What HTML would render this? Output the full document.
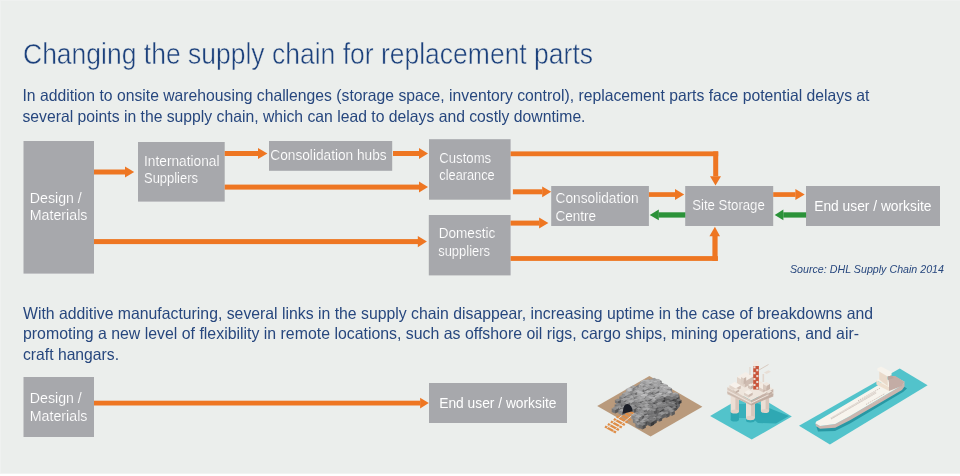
<!DOCTYPE html>
<html><head><meta charset="utf-8">
<style>
html,body{margin:0;padding:0;background:#EBEEEC;}
body{width:960px;height:476px;overflow:hidden;position:relative;font-family:"Liberation Sans",sans-serif;}
svg{position:absolute;left:0;top:0;display:block;will-change:transform;}
.t{font-family:"Liberation Sans",sans-serif;fill:#27477E;}
.w{font-family:"Liberation Sans",sans-serif;fill:#FFFFFF;font-size:14px;}
.b{fill:#A7A8AC;}
.wl{stroke:#A7A8AC;stroke-width:0.15px;}
.o{fill:#EE7622;}
.g{fill:#2B9239;}
</style></head>
<body>
<svg width="960" height="476" viewBox="0 0 960 476">
<rect x="0" y="0" width="960" height="476" fill="#EBEEEC"/>
<rect x="0" y="0" width="960" height="1" fill="#EFF1F0"/>
<rect x="0" y="0" width="1" height="476" fill="#EFF1F0"/>
<rect x="0" y="473" width="960" height="1" fill="#F1F3F2"/>
<rect x="0" y="474" width="960" height="2" fill="#FFFFFF"/>

<!-- title -->
<text class="t" x="23" y="64" style="fill:#1C417C" font-size="29.8" stroke="#EBEEEC" stroke-width="0.5" textLength="570" lengthAdjust="spacingAndGlyphs">Changing the supply chain for replacement parts</text>
<!-- para 1 -->
<text class="t" x="22.5" y="101.4" font-size="16.5" textLength="847" lengthAdjust="spacingAndGlyphs">In addition to onsite warehousing challenges (storage space, inventory control), replacement parts face potential delays at</text>
<text class="t" x="22.5" y="121.5" font-size="16.5" textLength="563" lengthAdjust="spacingAndGlyphs">several points in the supply chain, which can lead to delays and costly downtime.</text>

<!-- boxes -->
<rect class="b" x="23.5" y="141" width="70.5" height="132.6"/>
<rect class="b" x="138" y="142" width="86.7" height="59.6"/>
<rect class="b" x="269" y="141" width="123.2" height="29.8"/>
<rect class="b" x="429" y="139.2" width="81.6" height="60.5"/>
<rect class="b" x="428.8" y="215" width="81.8" height="60.4"/>
<rect class="b" x="551.2" y="186" width="97.7" height="40"/>
<rect class="b" x="685.2" y="186" width="88" height="40"/>
<rect class="b" x="806" y="186" width="134" height="40"/>
<rect class="b" x="23.5" y="377" width="70.5" height="60"/>
<rect class="b" x="429" y="383" width="138" height="40"/>

<!-- arrows: shaft rect + head polygon -->
<g class="o">
  <!-- Design -> International -->
  <rect x="94" y="169.5" width="31.5" height="5"/>
  <polygon points="125,166.5 134.2,172 125,177.5"/>
  <!-- Intl -> Hubs -->
  <rect x="224.7" y="151" width="33.5" height="5"/>
  <polygon points="258,148 267.4,153.5 258,159"/>
  <!-- Intl -> Customs -->
  <rect x="224.7" y="184.6" width="194.5" height="5"/>
  <polygon points="419,181.6 428,187.1 419,192.6"/>
  <!-- Hubs -> Customs -->
  <rect x="393" y="151" width="26.2" height="5"/>
  <polygon points="419,148 428,153.5 419,159"/>
  <!-- Design -> Domestic -->
  <rect x="94" y="239.1" width="324" height="5"/>
  <polygon points="417.8,236 426.9,241.6 417.8,247.2"/>
  <!-- Customs -> Site (top route) -->
  <rect x="510.6" y="151.4" width="207.6" height="4.8"/>
  <rect x="713.2" y="151.4" width="5" height="25"/>
  <polygon points="710,176.2 721,176.2 715.5,185.4"/>
  <!-- Customs -> Consolidation -->
  <rect x="512.9" y="189.3" width="29.5" height="5"/>
  <polygon points="542.2,186.4 551.2,191.8 542.2,197.2"/>
  <!-- Domestic -> Consolidation -->
  <rect x="510.6" y="220.6" width="28.7" height="5"/>
  <polygon points="539.1,217.4 548.4,223 539.1,228.6"/>
  <!-- Domestic -> Site (bottom route) -->
  <rect x="510.6" y="256.1" width="207.3" height="4.8"/>
  <rect x="712.4" y="235.5" width="5.2" height="25.4"/>
  <polygon points="709.4,236.2 720,236.2 714.9,226.8"/>
  <!-- Consolidation -> Site -->
  <rect x="648.9" y="192.2" width="26.3" height="4.7"/>
  <polygon points="675,189 684.2,194.5 675,200"/>
  <!-- Site -> End user -->
  <rect x="773.2" y="192.2" width="22.4" height="4.7"/>
  <polygon points="795.4,189 804.7,194.5 795.4,200"/>
  <!-- bottom Design -> End user -->
  <rect x="94" y="400.7" width="326.3" height="4.8"/>
  <polygon points="420.1,397.8 428.8,403.1 420.1,408.4"/>
</g>
<g class="g">
  <rect x="658.6" y="212.3" width="26.7" height="5.3"/>
  <polygon points="658.8,209.6 649.7,214.9 658.8,220.2"/>
  <rect x="783.3" y="212.3" width="22.8" height="5.3"/>
  <polygon points="783.4,209.6 774.7,214.9 783.4,220.2"/>
</g>

<!-- box labels -->
<g lengthAdjust="spacingAndGlyphs">
<text class="w wl" x="29.8" y="202.9" textLength="52" lengthAdjust="spacingAndGlyphs">Design /</text>
<text class="w wl" x="29.8" y="220.4" textLength="57.6" lengthAdjust="spacingAndGlyphs">Materials</text>
<text class="w wl" x="144" y="165.9" textLength="75.5" lengthAdjust="spacingAndGlyphs">International</text>
<text class="w wl" x="144" y="182.9" textLength="54" lengthAdjust="spacingAndGlyphs">Suppliers</text>
<text class="w wl" x="270.3" y="160.1" textLength="116.4" lengthAdjust="spacingAndGlyphs">Consolidation hubs</text>
<text class="w wl" x="439.3" y="162.9" textLength="51.9" lengthAdjust="spacingAndGlyphs">Customs</text>
<text class="w wl" x="439.3" y="180.3" textLength="55.4" lengthAdjust="spacingAndGlyphs">clearance</text>
<text class="w wl" x="438.7" y="238.4" textLength="56.6" lengthAdjust="spacingAndGlyphs">Domestic</text>
<text class="w wl" x="438.2" y="256.4" textLength="51.8" lengthAdjust="spacingAndGlyphs">suppliers</text>
<text class="w wl" x="555.5" y="202.6" textLength="83.1" lengthAdjust="spacingAndGlyphs">Consolidation</text>
<text class="w wl" x="555.5" y="220.5" textLength="40.6" lengthAdjust="spacingAndGlyphs">Centre</text>
<text class="w wl" x="692.2" y="210.2" textLength="72.6" lengthAdjust="spacingAndGlyphs">Site Storage</text>
<text class="w" x="814.2" y="210.8" textLength="117.3" lengthAdjust="spacingAndGlyphs">End user / worksite</text>
<text class="w wl" x="29.8" y="402.8" textLength="52" lengthAdjust="spacingAndGlyphs">Design /</text>
<text class="w wl" x="29.8" y="420.5" textLength="57.6" lengthAdjust="spacingAndGlyphs">Materials</text>
<text class="w" x="439.2" y="407.8" textLength="117.3" lengthAdjust="spacingAndGlyphs">End user / worksite</text>
</g>

<text class="t" x="790" y="273.2" font-size="11" font-style="italic" textLength="154" lengthAdjust="spacingAndGlyphs">Source: DHL Supply Chain 2014</text>

<!-- para 2 -->
<text class="t" x="23" y="319.2" font-size="16.5" textLength="850" lengthAdjust="spacingAndGlyphs">With additive manufacturing, several links in the supply chain disappear, increasing uptime in the case of breakdowns and</text>
<text class="t" x="23" y="339.4" font-size="16.5" textLength="836" lengthAdjust="spacingAndGlyphs">promoting a new level of flexibility in remote locations, such as offshore oil rigs, cargo ships, mining operations, and air-</text>
<text class="t" x="23" y="359.7" font-size="16.5" textLength="96" lengthAdjust="spacingAndGlyphs">craft hangars.</text>

<!-- illustrations -->
<g id="mine">
<polygon points="649.4,375.9 702.4,406.8 650.6,436.5 597.2,406" fill="#B99A7C"/>
<line x1="625.5" y1="408.9" x2="636.5" y2="415.1" stroke="#DF8D46" stroke-width="2.3"/>
<line x1="622.6" y1="411.4" x2="633.6" y2="417.6" stroke="#DF8D46" stroke-width="2.3"/>
<line x1="619.7" y1="413.9" x2="630.6" y2="420.1" stroke="#DF8D46" stroke-width="2.3"/>
<line x1="616.7" y1="416.4" x2="627.7" y2="422.6" stroke="#DF8D46" stroke-width="2.3"/>
<line x1="613.8" y1="418.9" x2="624.8" y2="425.1" stroke="#DF8D46" stroke-width="2.3"/>
<line x1="610.9" y1="421.4" x2="621.8" y2="427.6" stroke="#DF8D46" stroke-width="2.3"/>
<line x1="607.9" y1="423.9" x2="618.9" y2="430.1" stroke="#DF8D46" stroke-width="2.3"/>
<line x1="605.0" y1="426.4" x2="616.0" y2="432.6" stroke="#DF8D46" stroke-width="2.3"/>
<line x1="628.0" y1="410.3" x2="606.5" y2="428.4" stroke="#E6E2DC" stroke-width="0.9"/>
<line x1="634.0" y1="413.7" x2="612.5" y2="431.8" stroke="#E6E2DC" stroke-width="0.9"/>
<polygon points="614.3,411.1 617.7,401 622.2,395.3 627.9,391.9 634.7,387.3 641.5,382.8 648.3,379.4 655.1,380 661.9,382.8 668.7,388.5 675.5,395.3 680,399.8 680,405.5 676.6,410 668.7,414.5 659.6,419.1 651.7,423.6 643.7,426.5 636.9,425.9 635.2,421.4 634.7,413.4 632.4,408.9 627.9,404.3 624.5,405.5 622.8,413.4 618.8,412.3" fill="#7E7E80"/>
<polygon points="648,408 680,400 680,406 676.6,410 651.7,423.6 643.7,426.5 640,418" fill="#68686A"/>
<polygon points="650.4,379.6 654.1,377.7 657.7,379.6 654.1,381.4" fill="rgb(154,154,155)"/>
<polygon points="650.4,379.6 654.1,381.4 654.1,385.1 650.4,383.2" fill="rgb(130,130,131)"/>
<polygon points="654.1,381.4 657.7,379.6 657.7,383.2 654.1,385.1" fill="rgb(100,100,101)"/>
<polygon points="654.7,380.4 657.9,378.8 661.2,380.4 657.9,382.1" fill="rgb(166,166,167)"/>
<polygon points="654.7,380.4 657.9,382.1 657.9,385.4 654.7,383.7" fill="rgb(142,142,143)"/>
<polygon points="657.9,382.1 661.2,380.4 661.2,383.7 657.9,385.4" fill="rgb(112,112,113)"/>
<polygon points="654.5,380.9 658.1,379.1 661.6,380.9 658.1,382.6" fill="rgb(174,174,175)"/>
<polygon points="654.5,380.9 658.1,382.6 658.1,386.2 654.5,384.4" fill="rgb(150,150,151)"/>
<polygon points="658.1,382.6 661.6,380.9 661.6,384.4 658.1,386.2" fill="rgb(120,120,121)"/>
<polygon points="644.3,380.9 648.0,379.1 651.8,380.9 648.0,382.8" fill="rgb(165,165,166)"/>
<polygon points="644.3,380.9 648.0,382.8 648.0,386.6 644.3,384.7" fill="rgb(141,141,142)"/>
<polygon points="648.0,382.8 651.8,380.9 651.8,384.7 648.0,386.6" fill="rgb(111,111,112)"/>
<polygon points="649.1,381.0 652.1,379.5 655.1,381.0 652.1,382.5" fill="rgb(163,163,164)"/>
<polygon points="649.1,381.0 652.1,382.5 652.1,385.5 649.1,384.0" fill="rgb(139,139,140)"/>
<polygon points="652.1,382.5 655.1,381.0 655.1,384.0 652.1,385.5" fill="rgb(109,109,110)"/>
<polygon points="647.5,381.0 650.7,379.4 653.9,381.0 650.7,382.6" fill="rgb(177,177,178)"/>
<polygon points="647.5,381.0 650.7,382.6 650.7,385.8 647.5,384.2" fill="rgb(153,153,154)"/>
<polygon points="650.7,382.6 653.9,381.0 653.9,384.2 650.7,385.8" fill="rgb(123,123,124)"/>
<polygon points="644.5,381.2 647.1,379.9 649.6,381.2 647.1,382.5" fill="rgb(189,189,190)"/>
<polygon points="644.5,381.2 647.1,382.5 647.1,385.1 644.5,383.8" fill="rgb(165,165,166)"/>
<polygon points="647.1,382.5 649.6,381.2 649.6,383.8 647.1,385.1" fill="rgb(135,135,136)"/>
<polygon points="652.3,381.4 655.2,379.9 658.2,381.4 655.2,382.8" fill="rgb(154,154,155)"/>
<polygon points="652.3,381.4 655.2,382.8 655.2,385.7 652.3,384.3" fill="rgb(130,130,131)"/>
<polygon points="655.2,382.8 658.2,381.4 658.2,384.3 655.2,385.7" fill="rgb(100,100,101)"/>
<polygon points="640.5,381.4 644.1,379.6 647.8,381.4 644.1,383.2" fill="rgb(185,185,186)"/>
<polygon points="640.5,381.4 644.1,383.2 644.1,386.9 640.5,385.1" fill="rgb(161,161,162)"/>
<polygon points="644.1,383.2 647.8,381.4 647.8,385.1 644.1,386.9" fill="rgb(131,131,132)"/>
<polygon points="647.0,381.9 650.4,380.2 653.8,381.9 650.4,383.6" fill="rgb(161,161,162)"/>
<polygon points="647.0,381.9 650.4,383.6 650.4,387.0 647.0,385.3" fill="rgb(137,137,138)"/>
<polygon points="650.4,383.6 653.8,381.9 653.8,385.3 650.4,387.0" fill="rgb(107,107,108)"/>
<polygon points="644.6,382.0 647.6,380.5 650.5,382.0 647.6,383.5" fill="rgb(176,176,177)"/>
<polygon points="644.6,382.0 647.6,383.5 647.6,386.4 644.6,384.9" fill="rgb(152,152,153)"/>
<polygon points="647.6,383.5 650.5,382.0 650.5,384.9 647.6,386.4" fill="rgb(122,122,123)"/>
<polygon points="651.9,382.0 655.2,380.4 658.4,382.0 655.2,383.7" fill="rgb(183,183,184)"/>
<polygon points="651.9,382.0 655.2,383.7 655.2,387.0 651.9,385.3" fill="rgb(159,159,160)"/>
<polygon points="655.2,383.7 658.4,382.0 658.4,385.3 655.2,387.0" fill="rgb(129,129,130)"/>
<polygon points="641.1,382.2 644.6,380.5 648.0,382.2 644.6,383.9" fill="rgb(179,179,180)"/>
<polygon points="641.1,382.2 644.6,383.9 644.6,387.3 641.1,385.6" fill="rgb(155,155,156)"/>
<polygon points="644.6,383.9 648.0,382.2 648.0,385.6 644.6,387.3" fill="rgb(125,125,126)"/>
<polygon points="640.2,382.2 643.5,380.5 646.8,382.2 643.5,383.8" fill="rgb(174,174,175)"/>
<polygon points="640.2,382.2 643.5,383.8 643.5,387.1 640.2,385.5" fill="rgb(150,150,151)"/>
<polygon points="643.5,383.8 646.8,382.2 646.8,385.5 643.5,387.1" fill="rgb(120,120,121)"/>
<polygon points="649.6,382.4 653.0,380.7 656.5,382.4 653.0,384.2" fill="rgb(181,181,182)"/>
<polygon points="649.6,382.4 653.0,384.2 653.0,387.7 649.6,385.9" fill="rgb(157,157,158)"/>
<polygon points="653.0,384.2 656.5,382.4 656.5,385.9 653.0,387.7" fill="rgb(127,127,128)"/>
<polygon points="641.3,382.4 644.5,380.8 647.7,382.4 644.5,384.1" fill="rgb(157,157,158)"/>
<polygon points="641.3,382.4 644.5,384.1 644.5,387.3 641.3,385.7" fill="rgb(133,133,134)"/>
<polygon points="644.5,384.1 647.7,382.4 647.7,385.7 644.5,387.3" fill="rgb(103,103,104)"/>
<polygon points="648.9,382.8 652.5,381.0 656.0,382.8 652.5,384.6" fill="rgb(164,164,165)"/>
<polygon points="648.9,382.8 652.5,384.6 652.5,388.2 648.9,386.4" fill="rgb(140,140,141)"/>
<polygon points="652.5,384.6 656.0,382.8 656.0,386.4 652.5,388.2" fill="rgb(110,110,111)"/>
<polygon points="655.2,382.9 658.7,381.1 662.2,382.9 658.7,384.6" fill="rgb(161,161,162)"/>
<polygon points="655.2,382.9 658.7,384.6 658.7,388.1 655.2,386.3" fill="rgb(137,137,138)"/>
<polygon points="658.7,384.6 662.2,382.9 662.2,386.3 658.7,388.1" fill="rgb(107,107,108)"/>
<polygon points="649.2,382.9 651.9,381.6 654.5,382.9 651.9,384.3" fill="rgb(189,189,190)"/>
<polygon points="649.2,382.9 651.9,384.3 651.9,387.0 649.2,385.6" fill="rgb(165,165,166)"/>
<polygon points="651.9,384.3 654.5,382.9 654.5,385.6 651.9,387.0" fill="rgb(135,135,136)"/>
<polygon points="650.7,383.2 653.4,381.8 656.0,383.2 653.4,384.5" fill="rgb(156,156,157)"/>
<polygon points="650.7,383.2 653.4,384.5 653.4,387.2 650.7,385.9" fill="rgb(132,132,133)"/>
<polygon points="653.4,384.5 656.0,383.2 656.0,385.9 653.4,387.2" fill="rgb(102,102,103)"/>
<polygon points="645.2,383.3 648.5,381.7 651.8,383.3 648.5,385.0" fill="rgb(193,193,194)"/>
<polygon points="645.2,383.3 648.5,385.0 648.5,388.3 645.2,386.7" fill="rgb(169,169,170)"/>
<polygon points="648.5,385.0 651.8,383.3 651.8,386.7 648.5,388.3" fill="rgb(139,139,140)"/>
<polygon points="644.9,383.5 648.0,381.9 651.1,383.5 648.0,385.0" fill="rgb(169,169,170)"/>
<polygon points="644.9,383.5 648.0,385.0 648.0,388.1 644.9,386.6" fill="rgb(145,145,146)"/>
<polygon points="648.0,385.0 651.1,383.5 651.1,386.6 648.0,388.1" fill="rgb(115,115,116)"/>
<polygon points="652.1,383.7 655.3,382.2 658.4,383.7 655.3,385.3" fill="rgb(182,182,183)"/>
<polygon points="652.1,383.7 655.3,385.3 655.3,388.4 652.1,386.9" fill="rgb(158,158,159)"/>
<polygon points="655.3,385.3 658.4,383.7 658.4,386.9 655.3,388.4" fill="rgb(128,128,129)"/>
<polygon points="651.6,383.9 655.1,382.2 658.6,383.9 655.1,385.6" fill="rgb(159,159,160)"/>
<polygon points="651.6,383.9 655.1,385.6 655.1,389.1 651.6,387.4" fill="rgb(135,135,136)"/>
<polygon points="655.1,385.6 658.6,383.9 658.6,387.4 655.1,389.1" fill="rgb(105,105,106)"/>
<polygon points="660.7,384.6 663.2,383.3 665.7,384.6 663.2,385.8" fill="rgb(152,152,153)"/>
<polygon points="660.7,384.6 663.2,385.8 663.2,388.3 660.7,387.1" fill="rgb(128,128,129)"/>
<polygon points="663.2,385.8 665.7,384.6 665.7,387.1 663.2,388.3" fill="rgb(98,98,99)"/>
<polygon points="638.7,384.9 641.9,383.3 645.1,384.9 641.9,386.5" fill="rgb(194,194,195)"/>
<polygon points="638.7,384.9 641.9,386.5 641.9,389.7 638.7,388.1" fill="rgb(170,170,171)"/>
<polygon points="641.9,386.5 645.1,384.9 645.1,388.1 641.9,389.7" fill="rgb(140,140,141)"/>
<polygon points="640.0,384.9 642.6,383.6 645.3,384.9 642.6,386.2" fill="rgb(172,172,173)"/>
<polygon points="640.0,384.9 642.6,386.2 642.6,388.9 640.0,387.6" fill="rgb(148,148,149)"/>
<polygon points="642.6,386.2 645.3,384.9 645.3,387.6 642.6,388.9" fill="rgb(118,118,119)"/>
<polygon points="662.6,385.0 665.2,383.7 667.9,385.0 665.2,386.3" fill="rgb(186,186,187)"/>
<polygon points="662.6,385.0 665.2,386.3 665.2,389.0 662.6,387.7" fill="rgb(162,162,163)"/>
<polygon points="665.2,386.3 667.9,385.0 667.9,387.7 665.2,389.0" fill="rgb(132,132,133)"/>
<polygon points="656.4,385.1 658.9,383.8 661.4,385.1 658.9,386.3" fill="rgb(160,160,161)"/>
<polygon points="656.4,385.1 658.9,386.3 658.9,388.9 656.4,387.6" fill="rgb(136,136,137)"/>
<polygon points="658.9,386.3 661.4,385.1 661.4,387.6 658.9,388.9" fill="rgb(106,106,107)"/>
<polygon points="660.7,385.2 663.7,383.6 666.8,385.2 663.7,386.7" fill="rgb(185,185,186)"/>
<polygon points="660.7,385.2 663.7,386.7 663.7,389.8 660.7,388.2" fill="rgb(161,161,162)"/>
<polygon points="663.7,386.7 666.8,385.2 666.8,388.2 663.7,389.8" fill="rgb(131,131,132)"/>
<polygon points="652.4,385.3 655.6,383.7 658.7,385.3 655.6,386.8" fill="rgb(181,181,182)"/>
<polygon points="652.4,385.3 655.6,386.8 655.6,390.0 652.4,388.4" fill="rgb(157,157,158)"/>
<polygon points="655.6,386.8 658.7,385.3 658.7,388.4 655.6,390.0" fill="rgb(127,127,128)"/>
<polygon points="653.4,385.3 656.2,383.9 659.1,385.3 656.2,386.8" fill="rgb(171,171,172)"/>
<polygon points="653.4,385.3 656.2,386.8 656.2,389.6 653.4,388.2" fill="rgb(147,147,148)"/>
<polygon points="656.2,386.8 659.1,385.3 659.1,388.2 656.2,389.6" fill="rgb(117,117,118)"/>
<polygon points="660.2,385.3 662.8,384.0 665.5,385.3 662.8,386.7" fill="rgb(181,181,182)"/>
<polygon points="660.2,385.3 662.8,386.7 662.8,389.3 660.2,388.0" fill="rgb(157,157,158)"/>
<polygon points="662.8,386.7 665.5,385.3 665.5,388.0 662.8,389.3" fill="rgb(127,127,128)"/>
<polygon points="643.7,385.4 646.2,384.2 648.7,385.4 646.2,386.6" fill="rgb(159,159,160)"/>
<polygon points="643.7,385.4 646.2,386.6 646.2,389.1 643.7,387.9" fill="rgb(135,135,136)"/>
<polygon points="646.2,386.6 648.7,385.4 648.7,387.9 646.2,389.1" fill="rgb(105,105,106)"/>
<polygon points="658.2,385.5 661.6,383.8 665.0,385.5 661.6,387.2" fill="rgb(178,178,179)"/>
<polygon points="658.2,385.5 661.6,387.2 661.6,390.6 658.2,388.9" fill="rgb(154,154,155)"/>
<polygon points="661.6,387.2 665.0,385.5 665.0,388.9 661.6,390.6" fill="rgb(124,124,125)"/>
<polygon points="645.0,385.6 647.8,384.2 650.6,385.6 647.8,387.0" fill="rgb(172,172,173)"/>
<polygon points="645.0,385.6 647.8,387.0 647.8,389.8 645.0,388.4" fill="rgb(148,148,149)"/>
<polygon points="647.8,387.0 650.6,385.6 650.6,388.4 647.8,389.8" fill="rgb(118,118,119)"/>
<polygon points="657.6,385.9 660.9,384.3 664.2,385.9 660.9,387.5" fill="rgb(169,169,170)"/>
<polygon points="657.6,385.9 660.9,387.5 660.9,390.8 657.6,389.2" fill="rgb(145,145,146)"/>
<polygon points="660.9,387.5 664.2,385.9 664.2,389.2 660.9,390.8" fill="rgb(115,115,116)"/>
<polygon points="658.5,386.2 662.3,384.3 666.1,386.2 662.3,388.1" fill="rgb(156,156,157)"/>
<polygon points="658.5,386.2 662.3,388.1 662.3,391.9 658.5,390.0" fill="rgb(132,132,133)"/>
<polygon points="662.3,388.1 666.1,386.2 666.1,390.0 662.3,391.9" fill="rgb(102,102,103)"/>
<polygon points="645.7,386.4 648.2,385.1 650.7,386.4 648.2,387.6" fill="rgb(165,165,166)"/>
<polygon points="645.7,386.4 648.2,387.6 648.2,390.1 645.7,388.8" fill="rgb(141,141,142)"/>
<polygon points="648.2,387.6 650.7,386.4 650.7,388.8 648.2,390.1" fill="rgb(111,111,112)"/>
<polygon points="646.2,386.4 649.4,384.8 652.6,386.4 649.4,388.0" fill="rgb(159,159,160)"/>
<polygon points="646.2,386.4 649.4,388.0 649.4,391.2 646.2,389.6" fill="rgb(135,135,136)"/>
<polygon points="649.4,388.0 652.6,386.4 652.6,389.6 649.4,391.2" fill="rgb(105,105,106)"/>
<polygon points="630.3,386.7 633.4,385.2 636.4,386.7 633.4,388.3" fill="rgb(163,163,164)"/>
<polygon points="630.3,386.7 633.4,388.3 633.4,391.4 630.3,389.8" fill="rgb(139,139,140)"/>
<polygon points="633.4,388.3 636.4,386.7 636.4,389.8 633.4,391.4" fill="rgb(109,109,110)"/>
<polygon points="653.7,386.8 656.5,385.4 659.3,386.8 656.5,388.2" fill="rgb(162,162,163)"/>
<polygon points="653.7,386.8 656.5,388.2 656.5,391.1 653.7,389.6" fill="rgb(138,138,139)"/>
<polygon points="656.5,388.2 659.3,386.8 659.3,389.6 656.5,391.1" fill="rgb(108,108,109)"/>
<polygon points="645.6,386.9 649.0,385.2 652.3,386.9 649.0,388.6" fill="rgb(184,184,185)"/>
<polygon points="645.6,386.9 649.0,388.6 649.0,392.0 645.6,390.3" fill="rgb(160,160,161)"/>
<polygon points="649.0,388.6 652.3,386.9 652.3,390.3 649.0,392.0" fill="rgb(130,130,131)"/>
<polygon points="659.5,386.9 662.2,385.6 664.8,386.9 662.2,388.3" fill="rgb(189,189,190)"/>
<polygon points="659.5,386.9 662.2,388.3 662.2,390.9 659.5,389.6" fill="rgb(165,165,166)"/>
<polygon points="662.2,388.3 664.8,386.9 664.8,389.6 662.2,390.9" fill="rgb(135,135,136)"/>
<polygon points="661.6,387.1 664.4,385.7 667.1,387.1 664.4,388.5" fill="rgb(172,172,173)"/>
<polygon points="661.6,387.1 664.4,388.5 664.4,391.2 661.6,389.8" fill="rgb(148,148,149)"/>
<polygon points="664.4,388.5 667.1,387.1 667.1,389.8 664.4,391.2" fill="rgb(118,118,119)"/>
<polygon points="646.3,387.1 649.9,385.3 653.5,387.1 649.9,388.9" fill="rgb(157,157,158)"/>
<polygon points="646.3,387.1 649.9,388.9 649.9,392.5 646.3,390.7" fill="rgb(133,133,134)"/>
<polygon points="649.9,388.9 653.5,387.1 653.5,390.7 649.9,392.5" fill="rgb(103,103,104)"/>
<polygon points="649.5,387.3 652.3,385.9 655.0,387.3 652.3,388.6" fill="rgb(160,160,161)"/>
<polygon points="649.5,387.3 652.3,388.6 652.3,391.4 649.5,390.0" fill="rgb(136,136,137)"/>
<polygon points="652.3,388.6 655.0,387.3 655.0,390.0 652.3,391.4" fill="rgb(106,106,107)"/>
<polygon points="639.2,387.3 641.6,386.1 644.1,387.3 641.6,388.6" fill="rgb(162,162,163)"/>
<polygon points="639.2,387.3 641.6,388.6 641.6,391.0 639.2,389.8" fill="rgb(138,138,139)"/>
<polygon points="641.6,388.6 644.1,387.3 644.1,389.8 641.6,391.0" fill="rgb(108,108,109)"/>
<polygon points="664.3,387.4 666.9,386.1 669.5,387.4 666.9,388.6" fill="rgb(187,187,188)"/>
<polygon points="664.3,387.4 666.9,388.6 666.9,391.2 664.3,389.9" fill="rgb(163,163,164)"/>
<polygon points="666.9,388.6 669.5,387.4 669.5,389.9 666.9,391.2" fill="rgb(133,133,134)"/>
<polygon points="634.1,388.2 636.5,387.0 639.0,388.2 636.5,389.4" fill="rgb(160,160,161)"/>
<polygon points="634.1,388.2 636.5,389.4 636.5,391.8 634.1,390.6" fill="rgb(136,136,137)"/>
<polygon points="636.5,389.4 639.0,388.2 639.0,390.6 636.5,391.8" fill="rgb(106,106,107)"/>
<polygon points="664.9,388.2 668.4,386.4 672.0,388.2 668.4,390.0" fill="rgb(173,173,174)"/>
<polygon points="664.9,388.2 668.4,390.0 668.4,393.5 664.9,391.7" fill="rgb(149,149,150)"/>
<polygon points="668.4,390.0 672.0,388.2 672.0,391.7 668.4,393.5" fill="rgb(119,119,120)"/>
<polygon points="662.1,388.4 665.7,386.6 669.2,388.4 665.7,390.2" fill="rgb(194,194,195)"/>
<polygon points="662.1,388.4 665.7,390.2 665.7,393.7 662.1,391.9" fill="rgb(170,170,171)"/>
<polygon points="665.7,390.2 669.2,388.4 669.2,391.9 665.7,393.7" fill="rgb(140,140,141)"/>
<polygon points="641.4,388.5 644.9,386.7 648.5,388.5 644.9,390.2" fill="rgb(170,170,171)"/>
<polygon points="641.4,388.5 644.9,390.2 644.9,393.8 641.4,392.0" fill="rgb(146,146,147)"/>
<polygon points="644.9,390.2 648.5,388.5 648.5,392.0 644.9,393.8" fill="rgb(116,116,117)"/>
<polygon points="663.8,388.5 666.3,387.3 668.8,388.5 666.3,389.8" fill="rgb(173,173,174)"/>
<polygon points="663.8,388.5 666.3,389.8 666.3,392.3 663.8,391.1" fill="rgb(149,149,150)"/>
<polygon points="666.3,389.8 668.8,388.5 668.8,391.1 666.3,392.3" fill="rgb(119,119,120)"/>
<polygon points="637.1,388.5 639.5,387.3 642.0,388.5 639.5,389.8" fill="rgb(156,156,157)"/>
<polygon points="637.1,388.5 639.5,389.8 639.5,392.2 637.1,391.0" fill="rgb(132,132,133)"/>
<polygon points="639.5,389.8 642.0,388.5 642.0,391.0 639.5,392.2" fill="rgb(102,102,103)"/>
<polygon points="662.9,389.0 665.8,387.6 668.7,389.0 665.8,390.5" fill="rgb(168,168,169)"/>
<polygon points="662.9,389.0 665.8,390.5 665.8,393.4 662.9,391.9" fill="rgb(144,144,145)"/>
<polygon points="665.8,390.5 668.7,389.0 668.7,391.9 665.8,393.4" fill="rgb(114,114,115)"/>
<polygon points="625.8,389.1 629.5,387.2 633.3,389.1 629.5,391.0" fill="rgb(188,188,189)"/>
<polygon points="625.8,389.1 629.5,391.0 629.5,394.7 625.8,392.9" fill="rgb(164,164,165)"/>
<polygon points="629.5,391.0 633.3,389.1 633.3,392.9 629.5,394.7" fill="rgb(134,134,135)"/>
<polygon points="636.6,389.2 639.9,387.5 643.3,389.2 639.9,390.9" fill="rgb(166,166,167)"/>
<polygon points="636.6,389.2 639.9,390.9 639.9,394.2 636.6,392.6" fill="rgb(142,142,143)"/>
<polygon points="639.9,390.9 643.3,389.2 643.3,392.6 639.9,394.2" fill="rgb(112,112,113)"/>
<polygon points="661.4,389.8 664.0,388.5 666.6,389.8 664.0,391.1" fill="rgb(157,157,158)"/>
<polygon points="661.4,389.8 664.0,391.1 664.0,393.7 661.4,392.4" fill="rgb(133,133,134)"/>
<polygon points="664.0,391.1 666.6,389.8 666.6,392.4 664.0,393.7" fill="rgb(103,103,104)"/>
<polygon points="651.5,389.9 654.9,388.2 658.3,389.9 654.9,391.6" fill="rgb(165,165,166)"/>
<polygon points="651.5,389.9 654.9,391.6 654.9,395.0 651.5,393.3" fill="rgb(141,141,142)"/>
<polygon points="654.9,391.6 658.3,389.9 658.3,393.3 654.9,395.0" fill="rgb(111,111,112)"/>
<polygon points="652.9,390.0 656.5,388.1 660.1,390.0 656.5,391.8" fill="rgb(172,172,173)"/>
<polygon points="652.9,390.0 656.5,391.8 656.5,395.4 652.9,393.6" fill="rgb(148,148,149)"/>
<polygon points="656.5,391.8 660.1,390.0 660.1,393.6 656.5,395.4" fill="rgb(118,118,119)"/>
<polygon points="637.3,390.0 640.8,388.3 644.2,390.0 640.8,391.7" fill="rgb(151,151,152)"/>
<polygon points="637.3,390.0 640.8,391.7 640.8,395.2 637.3,393.4" fill="rgb(127,127,128)"/>
<polygon points="640.8,391.7 644.2,390.0 644.2,393.4 640.8,395.2" fill="rgb(97,97,98)"/>
<polygon points="637.1,390.0 640.4,388.3 643.7,390.0 640.4,391.7" fill="rgb(161,161,162)"/>
<polygon points="637.1,390.0 640.4,391.7 640.4,395.0 637.1,393.3" fill="rgb(137,137,138)"/>
<polygon points="640.4,391.7 643.7,390.0 643.7,393.3 640.4,395.0" fill="rgb(107,107,108)"/>
<polygon points="649.0,390.2 652.4,388.5 655.8,390.2 652.4,392.0" fill="rgb(184,184,185)"/>
<polygon points="649.0,390.2 652.4,392.0 652.4,395.4 649.0,393.7" fill="rgb(160,160,161)"/>
<polygon points="652.4,392.0 655.8,390.2 655.8,393.7 652.4,395.4" fill="rgb(130,130,131)"/>
<polygon points="655.6,390.3 658.5,388.8 661.4,390.3 658.5,391.7" fill="rgb(166,166,167)"/>
<polygon points="655.6,390.3 658.5,391.7 658.5,394.7 655.6,393.2" fill="rgb(142,142,143)"/>
<polygon points="658.5,391.7 661.4,390.3 661.4,393.2 658.5,394.7" fill="rgb(112,112,113)"/>
<polygon points="626.7,390.4 629.6,388.9 632.5,390.4 629.6,391.8" fill="rgb(192,192,193)"/>
<polygon points="626.7,390.4 629.6,391.8 629.6,394.7 626.7,393.2" fill="rgb(168,168,169)"/>
<polygon points="629.6,391.8 632.5,390.4 632.5,393.2 629.6,394.7" fill="rgb(138,138,139)"/>
<polygon points="654.1,390.4 656.8,389.1 659.4,390.4 656.8,391.8" fill="rgb(168,168,169)"/>
<polygon points="654.1,390.4 656.8,391.8 656.8,394.4 654.1,393.1" fill="rgb(144,144,145)"/>
<polygon points="656.8,391.8 659.4,390.4 659.4,393.1 656.8,394.4" fill="rgb(114,114,115)"/>
<polygon points="634.3,390.6 636.8,389.3 639.3,390.6 636.8,391.8" fill="rgb(168,168,169)"/>
<polygon points="634.3,390.6 636.8,391.8 636.8,394.3 634.3,393.1" fill="rgb(144,144,145)"/>
<polygon points="636.8,391.8 639.3,390.6 639.3,393.1 636.8,394.3" fill="rgb(114,114,115)"/>
<polygon points="649.9,390.7 652.8,389.3 655.7,390.7 652.8,392.1" fill="rgb(166,166,167)"/>
<polygon points="649.9,390.7 652.8,392.1 652.8,395.0 649.9,393.6" fill="rgb(142,142,143)"/>
<polygon points="652.8,392.1 655.7,390.7 655.7,393.6 652.8,395.0" fill="rgb(112,112,113)"/>
<polygon points="660.7,390.7 664.2,389.0 667.7,390.7 664.2,392.5" fill="rgb(185,185,186)"/>
<polygon points="660.7,390.7 664.2,392.5 664.2,396.0 660.7,394.2" fill="rgb(161,161,162)"/>
<polygon points="664.2,392.5 667.7,390.7 667.7,394.2 664.2,396.0" fill="rgb(131,131,132)"/>
<polygon points="665.6,391.1 668.9,389.5 672.1,391.1 668.9,392.7" fill="rgb(158,158,159)"/>
<polygon points="665.6,391.1 668.9,392.7 668.9,395.9 665.6,394.3" fill="rgb(134,134,135)"/>
<polygon points="668.9,392.7 672.1,391.1 672.1,394.3 668.9,395.9" fill="rgb(104,104,105)"/>
<polygon points="658.7,391.2 662.1,389.6 665.4,391.2 662.1,392.9" fill="rgb(166,166,167)"/>
<polygon points="658.7,391.2 662.1,392.9 662.1,396.2 658.7,394.6" fill="rgb(142,142,143)"/>
<polygon points="662.1,392.9 665.4,391.2 665.4,394.6 662.1,396.2" fill="rgb(112,112,113)"/>
<polygon points="647.5,391.3 650.4,389.8 653.3,391.3 650.4,392.7" fill="rgb(181,181,182)"/>
<polygon points="647.5,391.3 650.4,392.7 650.4,395.6 647.5,394.2" fill="rgb(157,157,158)"/>
<polygon points="650.4,392.7 653.3,391.3 653.3,394.2 650.4,395.6" fill="rgb(127,127,128)"/>
<polygon points="665.8,391.4 668.9,389.8 672.0,391.4 668.9,392.9" fill="rgb(154,154,155)"/>
<polygon points="665.8,391.4 668.9,392.9 668.9,396.0 665.8,394.5" fill="rgb(130,130,131)"/>
<polygon points="668.9,392.9 672.0,391.4 672.0,394.5 668.9,396.0" fill="rgb(100,100,101)"/>
<polygon points="633.0,391.4 635.6,390.1 638.1,391.4 635.6,392.7" fill="rgb(167,167,168)"/>
<polygon points="633.0,391.4 635.6,392.7 635.6,395.2 633.0,393.9" fill="rgb(143,143,144)"/>
<polygon points="635.6,392.7 638.1,391.4 638.1,393.9 635.6,395.2" fill="rgb(113,113,114)"/>
<polygon points="651.4,391.5 654.4,390.0 657.3,391.5 654.4,392.9" fill="rgb(151,151,152)"/>
<polygon points="651.4,391.5 654.4,392.9 654.4,395.9 651.4,394.4" fill="rgb(127,127,128)"/>
<polygon points="654.4,392.9 657.3,391.5 657.3,394.4 654.4,395.9" fill="rgb(97,97,98)"/>
<polygon points="663.7,391.5 667.4,389.7 671.0,391.5 667.4,393.4" fill="rgb(168,168,169)"/>
<polygon points="663.7,391.5 667.4,393.4 667.4,397.0 663.7,395.2" fill="rgb(144,144,145)"/>
<polygon points="667.4,393.4 671.0,391.5 671.0,395.2 667.4,397.0" fill="rgb(114,114,115)"/>
<polygon points="662.4,391.7 665.1,390.3 667.8,391.7 665.1,393.0" fill="rgb(167,167,168)"/>
<polygon points="662.4,391.7 665.1,393.0 665.1,395.7 662.4,394.4" fill="rgb(143,143,144)"/>
<polygon points="665.1,393.0 667.8,391.7 667.8,394.4 665.1,395.7" fill="rgb(113,113,114)"/>
<polygon points="635.1,391.7 638.4,390.0 641.7,391.7 638.4,393.3" fill="rgb(182,182,183)"/>
<polygon points="635.1,391.7 638.4,393.3 638.4,396.6 635.1,394.9" fill="rgb(158,158,159)"/>
<polygon points="638.4,393.3 641.7,391.7 641.7,394.9 638.4,396.6" fill="rgb(128,128,129)"/>
<polygon points="646.5,391.7 650.1,389.9 653.7,391.7 650.1,393.4" fill="rgb(159,159,160)"/>
<polygon points="646.5,391.7 650.1,393.4 650.1,397.0 646.5,395.2" fill="rgb(135,135,136)"/>
<polygon points="650.1,393.4 653.7,391.7 653.7,395.2 650.1,397.0" fill="rgb(105,105,106)"/>
<polygon points="644.4,391.7 647.7,390.0 651.1,391.7 647.7,393.4" fill="rgb(174,174,175)"/>
<polygon points="644.4,391.7 647.7,393.4 647.7,396.7 644.4,395.0" fill="rgb(150,150,151)"/>
<polygon points="647.7,393.4 651.1,391.7 651.1,395.0 647.7,396.7" fill="rgb(120,120,121)"/>
<polygon points="653.1,391.7 655.7,390.4 658.3,391.7 655.7,393.0" fill="rgb(160,160,161)"/>
<polygon points="653.1,391.7 655.7,393.0 655.7,395.6 653.1,394.3" fill="rgb(136,136,137)"/>
<polygon points="655.7,393.0 658.3,391.7 658.3,394.3 655.7,395.6" fill="rgb(106,106,107)"/>
<polygon points="645.3,391.8 647.9,390.4 650.6,391.8 647.9,393.1" fill="rgb(184,184,185)"/>
<polygon points="645.3,391.8 647.9,393.1 647.9,395.8 645.3,394.4" fill="rgb(160,160,161)"/>
<polygon points="647.9,393.1 650.6,391.8 650.6,394.4 647.9,395.8" fill="rgb(130,130,131)"/>
<polygon points="632.1,392.2 634.6,390.9 637.1,392.2 634.6,393.4" fill="rgb(158,158,159)"/>
<polygon points="632.1,392.2 634.6,393.4 634.6,395.9 632.1,394.7" fill="rgb(134,134,135)"/>
<polygon points="634.6,393.4 637.1,392.2 637.1,394.7 634.6,395.9" fill="rgb(104,104,105)"/>
<polygon points="666.6,392.3 669.6,390.8 672.7,392.3 669.6,393.8" fill="rgb(189,189,190)"/>
<polygon points="666.6,392.3 669.6,393.8 669.6,396.9 666.6,395.4" fill="rgb(165,165,166)"/>
<polygon points="669.6,393.8 672.7,392.3 672.7,395.4 669.6,396.9" fill="rgb(135,135,136)"/>
<polygon points="638.4,392.4 641.5,390.8 644.6,392.4 641.5,393.9" fill="rgb(155,155,156)"/>
<polygon points="638.4,392.4 641.5,393.9 641.5,397.0 638.4,395.5" fill="rgb(131,131,132)"/>
<polygon points="641.5,393.9 644.6,392.4 644.6,395.5 641.5,397.0" fill="rgb(101,101,102)"/>
<polygon points="636.9,392.9 640.7,391.0 644.5,392.9 640.7,394.8" fill="rgb(184,184,185)"/>
<polygon points="636.9,392.9 640.7,394.8 640.7,398.5 636.9,396.6" fill="rgb(160,160,161)"/>
<polygon points="640.7,394.8 644.5,392.9 644.5,396.6 640.7,398.5" fill="rgb(130,130,131)"/>
<polygon points="625.9,393.5 628.6,392.1 631.3,393.5 628.6,394.8" fill="rgb(138,138,139)"/>
<polygon points="625.9,393.5 628.6,394.8 628.6,397.4 625.9,396.1" fill="rgb(114,114,115)"/>
<polygon points="628.6,394.8 631.3,393.5 631.3,396.1 628.6,397.4" fill="rgb(84,84,85)"/>
<polygon points="622.1,393.6 625.4,392.0 628.6,393.6 625.4,395.2" fill="rgb(162,162,163)"/>
<polygon points="622.1,393.6 625.4,395.2 625.4,398.4 622.1,396.8" fill="rgb(138,138,139)"/>
<polygon points="625.4,395.2 628.6,393.6 628.6,396.8 625.4,398.4" fill="rgb(108,108,109)"/>
<polygon points="657.2,393.8 660.0,392.4 662.8,393.8 660.0,395.2" fill="rgb(192,192,193)"/>
<polygon points="657.2,393.8 660.0,395.2 660.0,398.0 657.2,396.6" fill="rgb(168,168,169)"/>
<polygon points="660.0,395.2 662.8,393.8 662.8,396.6 660.0,398.0" fill="rgb(138,138,139)"/>
<polygon points="672.0,393.8 675.1,392.3 678.1,393.8 675.1,395.4" fill="rgb(172,172,173)"/>
<polygon points="672.0,393.8 675.1,395.4 675.1,398.4 672.0,396.9" fill="rgb(148,148,149)"/>
<polygon points="675.1,395.4 678.1,393.8 678.1,396.9 675.1,398.4" fill="rgb(118,118,119)"/>
<polygon points="623.6,394.0 627.4,392.1 631.1,394.0 627.4,395.9" fill="rgb(165,165,166)"/>
<polygon points="623.6,394.0 627.4,395.9 627.4,399.7 623.6,397.8" fill="rgb(141,141,142)"/>
<polygon points="627.4,395.9 631.1,394.0 631.1,397.8 627.4,399.7" fill="rgb(111,111,112)"/>
<polygon points="672.3,394.1 675.5,392.5 678.8,394.1 675.5,395.7" fill="rgb(168,168,169)"/>
<polygon points="672.3,394.1 675.5,395.7 675.5,398.9 672.3,397.3" fill="rgb(144,144,145)"/>
<polygon points="675.5,395.7 678.8,394.1 678.8,397.3 675.5,398.9" fill="rgb(114,114,115)"/>
<polygon points="664.5,394.2 667.3,392.8 670.2,394.2 667.3,395.6" fill="rgb(166,166,167)"/>
<polygon points="664.5,394.2 667.3,395.6 667.3,398.4 664.5,397.0" fill="rgb(142,142,143)"/>
<polygon points="667.3,395.6 670.2,394.2 670.2,397.0 667.3,398.4" fill="rgb(112,112,113)"/>
<polygon points="637.1,394.3 640.0,392.9 643.0,394.3 640.0,395.8" fill="rgb(169,169,170)"/>
<polygon points="637.1,394.3 640.0,395.8 640.0,398.8 637.1,397.3" fill="rgb(145,145,146)"/>
<polygon points="640.0,395.8 643.0,394.3 643.0,397.3 640.0,398.8" fill="rgb(115,115,116)"/>
<polygon points="654.3,394.7 657.1,393.2 659.9,394.7 657.1,396.1" fill="rgb(153,153,154)"/>
<polygon points="654.3,394.7 657.1,396.1 657.1,398.9 654.3,397.5" fill="rgb(129,129,130)"/>
<polygon points="657.1,396.1 659.9,394.7 659.9,397.5 657.1,398.9" fill="rgb(99,99,100)"/>
<polygon points="625.5,394.7 628.1,393.4 630.7,394.7 628.1,396.0" fill="rgb(155,155,156)"/>
<polygon points="625.5,394.7 628.1,396.0 628.1,398.6 625.5,397.3" fill="rgb(131,131,132)"/>
<polygon points="628.1,396.0 630.7,394.7 630.7,397.3 628.1,398.6" fill="rgb(101,101,102)"/>
<polygon points="654.5,394.8 657.5,393.3 660.6,394.8 657.5,396.3" fill="rgb(173,173,174)"/>
<polygon points="654.5,394.8 657.5,396.3 657.5,399.4 654.5,397.8" fill="rgb(149,149,150)"/>
<polygon points="657.5,396.3 660.6,394.8 660.6,397.8 657.5,399.4" fill="rgb(119,119,120)"/>
<polygon points="624.5,395.0 627.0,393.8 629.5,395.0 627.0,396.3" fill="rgb(169,169,170)"/>
<polygon points="624.5,395.0 627.0,396.3 627.0,398.8 624.5,397.6" fill="rgb(145,145,146)"/>
<polygon points="627.0,396.3 629.5,395.0 629.5,397.6 627.0,398.8" fill="rgb(115,115,116)"/>
<polygon points="642.3,395.0 645.3,393.6 648.3,395.0 645.3,396.5" fill="rgb(184,184,185)"/>
<polygon points="642.3,395.0 645.3,396.5 645.3,399.5 642.3,398.0" fill="rgb(160,160,161)"/>
<polygon points="645.3,396.5 648.3,395.0 648.3,398.0 645.3,399.5" fill="rgb(130,130,131)"/>
<polygon points="672.4,395.3 675.9,393.6 679.4,395.3 675.9,397.1" fill="rgb(142,142,143)"/>
<polygon points="672.4,395.3 675.9,397.1 675.9,400.6 672.4,398.8" fill="rgb(118,118,119)"/>
<polygon points="675.9,397.1 679.4,395.3 679.4,398.8 675.9,400.6" fill="rgb(88,88,89)"/>
<polygon points="664.6,395.4 667.8,393.8 671.0,395.4 667.8,397.0" fill="rgb(158,158,159)"/>
<polygon points="664.6,395.4 667.8,397.0 667.8,400.2 664.6,398.6" fill="rgb(134,134,135)"/>
<polygon points="667.8,397.0 671.0,395.4 671.0,398.6 667.8,400.2" fill="rgb(104,104,105)"/>
<polygon points="656.2,395.4 659.5,393.8 662.7,395.4 659.5,397.0" fill="rgb(178,178,179)"/>
<polygon points="656.2,395.4 659.5,397.0 659.5,400.2 656.2,398.6" fill="rgb(154,154,155)"/>
<polygon points="659.5,397.0 662.7,395.4 662.7,398.6 659.5,400.2" fill="rgb(124,124,125)"/>
<polygon points="640.0,395.6 643.6,393.8 647.2,395.6 643.6,397.5" fill="rgb(193,193,194)"/>
<polygon points="640.0,395.6 643.6,397.5 643.6,401.1 640.0,399.3" fill="rgb(169,169,170)"/>
<polygon points="643.6,397.5 647.2,395.6 647.2,399.3 643.6,401.1" fill="rgb(139,139,140)"/>
<polygon points="661.0,395.7 664.5,394.0 668.0,395.7 664.5,397.5" fill="rgb(173,173,174)"/>
<polygon points="661.0,395.7 664.5,397.5 664.5,401.0 661.0,399.2" fill="rgb(149,149,150)"/>
<polygon points="664.5,397.5 668.0,395.7 668.0,399.2 664.5,401.0" fill="rgb(119,119,120)"/>
<polygon points="626.8,395.8 629.7,394.3 632.6,395.8 629.7,397.2" fill="rgb(150,150,151)"/>
<polygon points="626.8,395.8 629.7,397.2 629.7,400.1 626.8,398.7" fill="rgb(126,126,127)"/>
<polygon points="629.7,397.2 632.6,395.8 632.6,398.7 629.7,400.1" fill="rgb(96,96,97)"/>
<polygon points="648.5,395.8 651.7,394.2 654.9,395.8 651.7,397.4" fill="rgb(163,163,164)"/>
<polygon points="648.5,395.8 651.7,397.4 651.7,400.6 648.5,399.0" fill="rgb(139,139,140)"/>
<polygon points="651.7,397.4 654.9,395.8 654.9,399.0 651.7,400.6" fill="rgb(109,109,110)"/>
<polygon points="623.4,395.8 627.0,394.0 630.6,395.8 627.0,397.6" fill="rgb(168,168,169)"/>
<polygon points="623.4,395.8 627.0,397.6 627.0,401.1 623.4,399.4" fill="rgb(144,144,145)"/>
<polygon points="627.0,397.6 630.6,395.8 630.6,399.4 627.0,401.1" fill="rgb(114,114,115)"/>
<polygon points="631.0,395.9 634.3,394.3 637.5,395.9 634.3,397.6" fill="rgb(160,160,161)"/>
<polygon points="631.0,395.9 634.3,397.6 634.3,400.8 631.0,399.2" fill="rgb(136,136,137)"/>
<polygon points="634.3,397.6 637.5,395.9 637.5,399.2 634.3,400.8" fill="rgb(106,106,107)"/>
<polygon points="668.9,396.0 672.3,394.3 675.7,396.0 672.3,397.7" fill="rgb(145,145,146)"/>
<polygon points="668.9,396.0 672.3,397.7 672.3,401.1 668.9,399.4" fill="rgb(121,121,122)"/>
<polygon points="672.3,397.7 675.7,396.0 675.7,399.4 672.3,401.1" fill="rgb(91,91,92)"/>
<polygon points="641.7,396.0 644.1,394.7 646.6,396.0 644.1,397.2" fill="rgb(186,186,187)"/>
<polygon points="641.7,396.0 644.1,397.2 644.1,399.7 641.7,398.5" fill="rgb(162,162,163)"/>
<polygon points="644.1,397.2 646.6,396.0 646.6,398.5 644.1,399.7" fill="rgb(132,132,133)"/>
<polygon points="620.5,396.0 623.3,394.6 626.1,396.0 623.3,397.4" fill="rgb(150,150,151)"/>
<polygon points="620.5,396.0 623.3,397.4 623.3,400.2 620.5,398.8" fill="rgb(126,126,127)"/>
<polygon points="623.3,397.4 626.1,396.0 626.1,398.8 623.3,400.2" fill="rgb(96,96,97)"/>
<polygon points="629.4,396.0 633.1,394.2 636.8,396.0 633.1,397.9" fill="rgb(142,142,143)"/>
<polygon points="629.4,396.0 633.1,397.9 633.1,401.5 629.4,399.7" fill="rgb(118,118,119)"/>
<polygon points="633.1,397.9 636.8,396.0 636.8,399.7 633.1,401.5" fill="rgb(88,88,89)"/>
<polygon points="625.6,396.1 629.2,394.3 632.8,396.1 629.2,397.9" fill="rgb(132,132,133)"/>
<polygon points="625.6,396.1 629.2,397.9 629.2,401.5 625.6,399.7" fill="rgb(108,108,109)"/>
<polygon points="629.2,397.9 632.8,396.1 632.8,399.7 629.2,401.5" fill="rgb(78,78,79)"/>
<polygon points="632.7,396.1 635.4,394.8 638.1,396.1 635.4,397.5" fill="rgb(163,163,164)"/>
<polygon points="632.7,396.1 635.4,397.5 635.4,400.2 632.7,398.9" fill="rgb(139,139,140)"/>
<polygon points="635.4,397.5 638.1,396.1 638.1,398.9 635.4,400.2" fill="rgb(109,109,110)"/>
<polygon points="647.2,396.2 649.7,395.0 652.1,396.2 649.7,397.5" fill="rgb(157,157,158)"/>
<polygon points="647.2,396.2 649.7,397.5 649.7,399.9 647.2,398.7" fill="rgb(133,133,134)"/>
<polygon points="649.7,397.5 652.1,396.2 652.1,398.7 649.7,399.9" fill="rgb(103,103,104)"/>
<polygon points="633.5,396.4 637.2,394.5 640.9,396.4 637.2,398.2" fill="rgb(164,164,165)"/>
<polygon points="633.5,396.4 637.2,398.2 637.2,401.9 633.5,400.1" fill="rgb(140,140,141)"/>
<polygon points="637.2,398.2 640.9,396.4 640.9,400.1 637.2,401.9" fill="rgb(110,110,111)"/>
<polygon points="629.0,396.5 631.5,395.3 633.9,396.5 631.5,397.7" fill="rgb(170,170,171)"/>
<polygon points="629.0,396.5 631.5,397.7 631.5,400.2 629.0,399.0" fill="rgb(146,146,147)"/>
<polygon points="631.5,397.7 633.9,396.5 633.9,399.0 631.5,400.2" fill="rgb(116,116,117)"/>
<polygon points="673.6,396.5 676.4,395.1 679.2,396.5 676.4,397.9" fill="rgb(112,112,113)"/>
<polygon points="673.6,396.5 676.4,397.9 676.4,400.7 673.6,399.3" fill="rgb(88,88,89)"/>
<polygon points="676.4,397.9 679.2,396.5 679.2,399.3 676.4,400.7" fill="rgb(58,58,59)"/>
<polygon points="619.3,396.6 622.7,394.9 626.0,396.6 622.7,398.2" fill="rgb(147,147,148)"/>
<polygon points="619.3,396.6 622.7,398.2 622.7,401.6 619.3,399.9" fill="rgb(123,123,124)"/>
<polygon points="622.7,398.2 626.0,396.6 626.0,399.9 622.7,401.6" fill="rgb(93,93,94)"/>
<polygon points="647.2,396.6 650.0,395.2 652.9,396.6 650.0,398.0" fill="rgb(150,150,151)"/>
<polygon points="647.2,396.6 650.0,398.0 650.0,400.9 647.2,399.4" fill="rgb(126,126,127)"/>
<polygon points="650.0,398.0 652.9,396.6 652.9,399.4 650.0,400.9" fill="rgb(96,96,97)"/>
<polygon points="656.6,396.7 659.8,395.0 663.1,396.7 659.8,398.3" fill="rgb(156,156,157)"/>
<polygon points="656.6,396.7 659.8,398.3 659.8,401.5 656.6,399.9" fill="rgb(132,132,133)"/>
<polygon points="659.8,398.3 663.1,396.7 663.1,399.9 659.8,401.5" fill="rgb(102,102,103)"/>
<polygon points="673.3,396.9 676.3,395.4 679.3,396.9 676.3,398.4" fill="rgb(144,144,145)"/>
<polygon points="673.3,396.9 676.3,398.4 676.3,401.4 673.3,399.9" fill="rgb(120,120,121)"/>
<polygon points="676.3,398.4 679.3,396.9 679.3,399.9 676.3,401.4" fill="rgb(90,90,91)"/>
<polygon points="644.8,397.0 648.0,395.4 651.3,397.0 648.0,398.7" fill="rgb(157,157,158)"/>
<polygon points="644.8,397.0 648.0,398.7 648.0,401.9 644.8,400.3" fill="rgb(133,133,134)"/>
<polygon points="648.0,398.7 651.3,397.0 651.3,400.3 648.0,401.9" fill="rgb(103,103,104)"/>
<polygon points="634.5,397.1 636.9,395.9 639.4,397.1 636.9,398.3" fill="rgb(140,140,141)"/>
<polygon points="634.5,397.1 636.9,398.3 636.9,400.7 634.5,399.5" fill="rgb(116,116,117)"/>
<polygon points="636.9,398.3 639.4,397.1 639.4,399.5 636.9,400.7" fill="rgb(86,86,87)"/>
<polygon points="625.8,397.2 629.1,395.5 632.4,397.2 629.1,398.8" fill="rgb(151,151,152)"/>
<polygon points="625.8,397.2 629.1,398.8 629.1,402.1 625.8,400.5" fill="rgb(127,127,128)"/>
<polygon points="629.1,398.8 632.4,397.2 632.4,400.5 629.1,402.1" fill="rgb(97,97,98)"/>
<polygon points="645.8,397.2 649.4,395.5 652.9,397.2 649.4,399.0" fill="rgb(169,169,170)"/>
<polygon points="645.8,397.2 649.4,399.0 649.4,402.5 645.8,400.7" fill="rgb(145,145,146)"/>
<polygon points="649.4,399.0 652.9,397.2 652.9,400.7 649.4,402.5" fill="rgb(115,115,116)"/>
<polygon points="640.4,397.3 643.2,395.9 646.0,397.3 643.2,398.7" fill="rgb(172,172,173)"/>
<polygon points="640.4,397.3 643.2,398.7 643.2,401.5 640.4,400.1" fill="rgb(148,148,149)"/>
<polygon points="643.2,398.7 646.0,397.3 646.0,400.1 643.2,401.5" fill="rgb(118,118,119)"/>
<polygon points="664.5,397.4 667.9,395.8 671.2,397.4 667.9,399.1" fill="rgb(117,117,118)"/>
<polygon points="664.5,397.4 667.9,399.1 667.9,402.5 664.5,400.8" fill="rgb(93,93,94)"/>
<polygon points="667.9,399.1 671.2,397.4 671.2,400.8 667.9,402.5" fill="rgb(63,63,64)"/>
<polygon points="659.2,397.5 662.2,396.0 665.1,397.5 662.2,399.0" fill="rgb(111,111,112)"/>
<polygon points="659.2,397.5 662.2,399.0 662.2,401.9 659.2,400.4" fill="rgb(87,87,88)"/>
<polygon points="662.2,399.0 665.1,397.5 665.1,400.4 662.2,401.9" fill="rgb(57,57,58)"/>
<polygon points="653.1,397.5 656.6,395.7 660.1,397.5 656.6,399.2" fill="rgb(192,192,193)"/>
<polygon points="653.1,397.5 656.6,399.2 656.6,402.7 653.1,401.0" fill="rgb(168,168,169)"/>
<polygon points="656.6,399.2 660.1,397.5 660.1,401.0 656.6,402.7" fill="rgb(138,138,139)"/>
<polygon points="628.6,397.6 631.5,396.1 634.4,397.6 631.5,399.0" fill="rgb(170,170,171)"/>
<polygon points="628.6,397.6 631.5,399.0 631.5,401.9 628.6,400.4" fill="rgb(146,146,147)"/>
<polygon points="631.5,399.0 634.4,397.6 634.4,400.4 631.5,401.9" fill="rgb(116,116,117)"/>
<polygon points="654.7,397.6 657.2,396.3 659.8,397.6 657.2,398.9" fill="rgb(154,154,155)"/>
<polygon points="654.7,397.6 657.2,398.9 657.2,401.4 654.7,400.1" fill="rgb(130,130,131)"/>
<polygon points="657.2,398.9 659.8,397.6 659.8,400.1 657.2,401.4" fill="rgb(100,100,101)"/>
<polygon points="671.6,397.6 675.1,395.9 678.6,397.6 675.1,399.4" fill="rgb(117,117,118)"/>
<polygon points="671.6,397.6 675.1,399.4 675.1,402.9 671.6,401.1" fill="rgb(93,93,94)"/>
<polygon points="675.1,399.4 678.6,397.6 678.6,401.1 675.1,402.9" fill="rgb(63,63,64)"/>
<polygon points="633.1,397.7 636.3,396.2 639.4,397.7 636.3,399.3" fill="rgb(129,129,130)"/>
<polygon points="633.1,397.7 636.3,399.3 636.3,402.5 633.1,400.9" fill="rgb(105,105,106)"/>
<polygon points="636.3,399.3 639.4,397.7 639.4,400.9 636.3,402.5" fill="rgb(75,75,76)"/>
<polygon points="625.1,397.8 627.9,396.4 630.7,397.8 627.9,399.2" fill="rgb(154,154,155)"/>
<polygon points="625.1,397.8 627.9,399.2 627.9,402.0 625.1,400.6" fill="rgb(130,130,131)"/>
<polygon points="627.9,399.2 630.7,397.8 630.7,400.6 627.9,402.0" fill="rgb(100,100,101)"/>
<polygon points="637.2,398.0 640.3,396.5 643.4,398.0 640.3,399.6" fill="rgb(164,164,165)"/>
<polygon points="637.2,398.0 640.3,399.6 640.3,402.6 637.2,401.1" fill="rgb(140,140,141)"/>
<polygon points="640.3,399.6 643.4,398.0 643.4,401.1 640.3,402.6" fill="rgb(110,110,111)"/>
<polygon points="648.1,398.1 651.4,396.5 654.6,398.1 651.4,399.7" fill="rgb(159,159,160)"/>
<polygon points="648.1,398.1 651.4,399.7 651.4,402.9 648.1,401.3" fill="rgb(135,135,136)"/>
<polygon points="651.4,399.7 654.6,398.1 654.6,401.3 651.4,402.9" fill="rgb(105,105,106)"/>
<polygon points="636.5,398.1 639.6,396.6 642.6,398.1 639.6,399.6" fill="rgb(171,171,172)"/>
<polygon points="636.5,398.1 639.6,399.6 639.6,402.7 636.5,401.1" fill="rgb(147,147,148)"/>
<polygon points="639.6,399.6 642.6,398.1 642.6,401.1 639.6,402.7" fill="rgb(117,117,118)"/>
<polygon points="635.9,398.1 638.3,396.9 640.8,398.1 638.3,399.3" fill="rgb(161,161,162)"/>
<polygon points="635.9,398.1 638.3,399.3 638.3,401.7 635.9,400.5" fill="rgb(137,137,138)"/>
<polygon points="638.3,399.3 640.8,398.1 640.8,400.5 638.3,401.7" fill="rgb(107,107,108)"/>
<polygon points="659.5,398.1 661.9,396.9 664.3,398.1 661.9,399.3" fill="rgb(142,142,143)"/>
<polygon points="659.5,398.1 661.9,399.3 661.9,401.8 659.5,400.5" fill="rgb(118,118,119)"/>
<polygon points="661.9,399.3 664.3,398.1 664.3,400.5 661.9,401.8" fill="rgb(88,88,89)"/>
<polygon points="624.7,398.1 628.2,396.4 631.7,398.1 628.2,399.9" fill="rgb(132,132,133)"/>
<polygon points="624.7,398.1 628.2,399.9 628.2,403.4 624.7,401.7" fill="rgb(108,108,109)"/>
<polygon points="628.2,399.9 631.7,398.1 631.7,401.7 628.2,403.4" fill="rgb(78,78,79)"/>
<polygon points="648.9,398.2 652.5,396.4 656.2,398.2 652.5,400.0" fill="rgb(177,177,178)"/>
<polygon points="648.9,398.2 652.5,400.0 652.5,403.7 648.9,401.9" fill="rgb(153,153,154)"/>
<polygon points="652.5,400.0 656.2,398.2 656.2,401.9 652.5,403.7" fill="rgb(123,123,124)"/>
<polygon points="646.7,398.3 649.7,396.8 652.7,398.3 649.7,399.8" fill="rgb(183,183,184)"/>
<polygon points="646.7,398.3 649.7,399.8 649.7,402.9 646.7,401.4" fill="rgb(159,159,160)"/>
<polygon points="649.7,399.8 652.7,398.3 652.7,401.4 649.7,402.9" fill="rgb(129,129,130)"/>
<polygon points="627.4,398.7 630.9,396.9 634.4,398.7 630.9,400.4" fill="rgb(171,171,172)"/>
<polygon points="627.4,398.7 630.9,400.4 630.9,403.9 627.4,402.1" fill="rgb(147,147,148)"/>
<polygon points="630.9,400.4 634.4,398.7 634.4,402.1 630.9,403.9" fill="rgb(117,117,118)"/>
<polygon points="667.8,398.7 671.3,396.9 674.7,398.7 671.3,400.4" fill="rgb(119,119,120)"/>
<polygon points="667.8,398.7 671.3,400.4 671.3,403.8 667.8,402.1" fill="rgb(95,95,96)"/>
<polygon points="671.3,400.4 674.7,398.7 674.7,402.1 671.3,403.8" fill="rgb(65,65,66)"/>
<polygon points="644.3,398.7 647.9,396.9 651.5,398.7 647.9,400.5" fill="rgb(155,155,156)"/>
<polygon points="644.3,398.7 647.9,400.5 647.9,404.0 644.3,402.2" fill="rgb(131,131,132)"/>
<polygon points="647.9,400.5 651.5,398.7 651.5,402.2 647.9,404.0" fill="rgb(101,101,102)"/>
<polygon points="656.6,399.0 659.8,397.4 663.1,399.0 659.8,400.6" fill="rgb(141,141,142)"/>
<polygon points="656.6,399.0 659.8,400.6 659.8,403.9 656.6,402.3" fill="rgb(117,117,118)"/>
<polygon points="659.8,400.6 663.1,399.0 663.1,402.3 659.8,403.9" fill="rgb(87,87,88)"/>
<polygon points="638.0,399.1 641.0,397.6 644.0,399.1 641.0,400.6" fill="rgb(172,172,173)"/>
<polygon points="638.0,399.1 641.0,400.6 641.0,403.6 638.0,402.1" fill="rgb(148,148,149)"/>
<polygon points="641.0,400.6 644.0,399.1 644.0,402.1 641.0,403.6" fill="rgb(118,118,119)"/>
<polygon points="622.5,399.2 625.3,397.8 628.1,399.2 625.3,400.6" fill="rgb(150,150,151)"/>
<polygon points="622.5,399.2 625.3,400.6 625.3,403.4 622.5,402.0" fill="rgb(126,126,127)"/>
<polygon points="625.3,400.6 628.1,399.2 628.1,402.0 625.3,403.4" fill="rgb(96,96,97)"/>
<polygon points="623.4,399.4 626.8,397.7 630.3,399.4 626.8,401.1" fill="rgb(167,167,168)"/>
<polygon points="623.4,399.4 626.8,401.1 626.8,404.6 623.4,402.9" fill="rgb(143,143,144)"/>
<polygon points="626.8,401.1 630.3,399.4 630.3,402.9 626.8,404.6" fill="rgb(113,113,114)"/>
<polygon points="620.7,399.5 624.1,397.8 627.6,399.5 624.1,401.2" fill="rgb(159,159,160)"/>
<polygon points="620.7,399.5 624.1,401.2 624.1,404.7 620.7,402.9" fill="rgb(135,135,136)"/>
<polygon points="624.1,401.2 627.6,399.5 627.6,402.9 624.1,404.7" fill="rgb(105,105,106)"/>
<polygon points="659.4,399.5 662.2,398.1 665.0,399.5 662.2,400.9" fill="rgb(120,120,121)"/>
<polygon points="659.4,399.5 662.2,400.9 662.2,403.7 659.4,402.3" fill="rgb(96,96,97)"/>
<polygon points="662.2,400.9 665.0,399.5 665.0,402.3 662.2,403.7" fill="rgb(66,66,67)"/>
<polygon points="659.0,399.6 661.8,398.2 664.6,399.6 661.8,401.0" fill="rgb(114,114,115)"/>
<polygon points="659.0,399.6 661.8,401.0 661.8,403.8 659.0,402.4" fill="rgb(90,90,91)"/>
<polygon points="661.8,401.0 664.6,399.6 664.6,402.4 661.8,403.8" fill="rgb(60,60,61)"/>
<polygon points="651.7,399.7 654.2,398.4 656.6,399.7 654.2,400.9" fill="rgb(176,176,177)"/>
<polygon points="651.7,399.7 654.2,400.9 654.2,403.3 651.7,402.1" fill="rgb(152,152,153)"/>
<polygon points="654.2,400.9 656.6,399.7 656.6,402.1 654.2,403.3" fill="rgb(122,122,123)"/>
<polygon points="627.9,399.8 631.6,398.0 635.3,399.8 631.6,401.7" fill="rgb(136,136,137)"/>
<polygon points="627.9,399.8 631.6,401.7 631.6,405.4 627.9,403.6" fill="rgb(112,112,113)"/>
<polygon points="631.6,401.7 635.3,399.8 635.3,403.6 631.6,405.4" fill="rgb(82,82,83)"/>
<polygon points="639.2,399.9 642.9,398.0 646.7,399.9 642.9,401.7" fill="rgb(159,159,160)"/>
<polygon points="639.2,399.9 642.9,401.7 642.9,405.5 639.2,403.6" fill="rgb(135,135,136)"/>
<polygon points="642.9,401.7 646.7,399.9 646.7,403.6 642.9,405.5" fill="rgb(105,105,106)"/>
<polygon points="614.9,399.9 617.9,398.4 620.8,399.9 617.9,401.4" fill="rgb(140,140,141)"/>
<polygon points="614.9,399.9 617.9,401.4 617.9,404.3 614.9,402.8" fill="rgb(116,116,117)"/>
<polygon points="617.9,401.4 620.8,399.9 620.8,402.8 617.9,404.3" fill="rgb(86,86,87)"/>
<polygon points="675.6,399.9 678.5,398.4 681.5,399.9 678.5,401.4" fill="rgb(113,113,114)"/>
<polygon points="675.6,399.9 678.5,401.4 678.5,404.3 675.6,402.9" fill="rgb(89,89,90)"/>
<polygon points="678.5,401.4 681.5,399.9 681.5,402.9 678.5,404.3" fill="rgb(59,59,60)"/>
<polygon points="632.6,400.2 636.0,398.5 639.4,400.2 636.0,401.9" fill="rgb(172,172,173)"/>
<polygon points="632.6,400.2 636.0,401.9 636.0,405.3 632.6,403.6" fill="rgb(148,148,149)"/>
<polygon points="636.0,401.9 639.4,400.2 639.4,403.6 636.0,405.3" fill="rgb(118,118,119)"/>
<polygon points="625.9,400.2 628.7,398.8 631.5,400.2 628.7,401.6" fill="rgb(159,159,160)"/>
<polygon points="625.9,400.2 628.7,401.6 628.7,404.4 625.9,403.0" fill="rgb(135,135,136)"/>
<polygon points="628.7,401.6 631.5,400.2 631.5,403.0 628.7,404.4" fill="rgb(105,105,106)"/>
<polygon points="656.8,400.3 659.7,398.8 662.7,400.3 659.7,401.7" fill="rgb(109,109,110)"/>
<polygon points="656.8,400.3 659.7,401.7 659.7,404.6 656.8,403.2" fill="rgb(85,85,86)"/>
<polygon points="659.7,401.7 662.7,400.3 662.7,403.2 659.7,404.6" fill="rgb(55,55,56)"/>
<polygon points="629.9,400.5 632.5,399.2 635.1,400.5 632.5,401.8" fill="rgb(163,163,164)"/>
<polygon points="629.9,400.5 632.5,401.8 632.5,404.4 629.9,403.1" fill="rgb(139,139,140)"/>
<polygon points="632.5,401.8 635.1,400.5 635.1,403.1 632.5,404.4" fill="rgb(109,109,110)"/>
<polygon points="637.6,400.8 640.3,399.5 643.0,400.8 640.3,402.1" fill="rgb(163,163,164)"/>
<polygon points="637.6,400.8 640.3,402.1 640.3,404.8 637.6,403.5" fill="rgb(139,139,140)"/>
<polygon points="640.3,402.1 643.0,400.8 643.0,403.5 640.3,404.8" fill="rgb(109,109,110)"/>
<polygon points="657.1,401.0 660.5,399.3 663.9,401.0 660.5,402.7" fill="rgb(113,113,114)"/>
<polygon points="657.1,401.0 660.5,402.7 660.5,406.1 657.1,404.4" fill="rgb(89,89,90)"/>
<polygon points="660.5,402.7 663.9,401.0 663.9,404.4 660.5,406.1" fill="rgb(59,59,60)"/>
<polygon points="650.1,401.1 653.1,399.6 656.0,401.1 653.1,402.5" fill="rgb(158,158,159)"/>
<polygon points="650.1,401.1 653.1,402.5 653.1,405.4 650.1,404.0" fill="rgb(134,134,135)"/>
<polygon points="653.1,402.5 656.0,401.1 656.0,404.0 653.1,405.4" fill="rgb(104,104,105)"/>
<polygon points="633.3,401.1 636.0,399.7 638.7,401.1 636.0,402.5" fill="rgb(147,147,148)"/>
<polygon points="633.3,401.1 636.0,402.5 636.0,405.2 633.3,403.8" fill="rgb(123,123,124)"/>
<polygon points="636.0,402.5 638.7,401.1 638.7,403.8 636.0,405.2" fill="rgb(93,93,94)"/>
<polygon points="665.5,401.3 667.9,400.1 670.3,401.3 667.9,402.5" fill="rgb(124,124,125)"/>
<polygon points="665.5,401.3 667.9,402.5 667.9,404.9 665.5,403.7" fill="rgb(100,100,101)"/>
<polygon points="667.9,402.5 670.3,401.3 670.3,403.7 667.9,404.9" fill="rgb(70,70,71)"/>
<polygon points="634.3,401.4 637.6,399.7 641.0,401.4 637.6,403.0" fill="rgb(149,149,150)"/>
<polygon points="634.3,401.4 637.6,403.0 637.6,406.4 634.3,404.7" fill="rgb(125,125,126)"/>
<polygon points="637.6,403.0 641.0,401.4 641.0,404.7 637.6,406.4" fill="rgb(95,95,96)"/>
<polygon points="656.0,401.5 659.2,399.9 662.4,401.5 659.2,403.1" fill="rgb(122,122,123)"/>
<polygon points="656.0,401.5 659.2,403.1 659.2,406.3 656.0,404.7" fill="rgb(98,98,99)"/>
<polygon points="659.2,403.1 662.4,401.5 662.4,404.7 659.2,406.3" fill="rgb(68,68,69)"/>
<polygon points="627.7,401.6 631.0,400.0 634.3,401.6 631.0,403.3" fill="rgb(172,172,173)"/>
<polygon points="627.7,401.6 631.0,403.3 631.0,406.6 627.7,405.0" fill="rgb(148,148,149)"/>
<polygon points="631.0,403.3 634.3,401.6 634.3,405.0 631.0,406.6" fill="rgb(118,118,119)"/>
<polygon points="643.8,402.4 647.5,400.5 651.2,402.4 647.5,404.2" fill="rgb(145,145,146)"/>
<polygon points="643.8,402.4 647.5,404.2 647.5,407.9 643.8,406.1" fill="rgb(121,121,122)"/>
<polygon points="647.5,404.2 651.2,402.4 651.2,406.1 647.5,407.9" fill="rgb(91,91,92)"/>
<polygon points="644.5,402.4 647.7,400.8 650.9,402.4 647.7,404.1" fill="rgb(137,137,138)"/>
<polygon points="644.5,402.4 647.7,404.1 647.7,407.3 644.5,405.7" fill="rgb(113,113,114)"/>
<polygon points="647.7,404.1 650.9,402.4 650.9,405.7 647.7,407.3" fill="rgb(83,83,84)"/>
<polygon points="641.6,402.6 644.9,401.0 648.2,402.6 644.9,404.3" fill="rgb(162,162,163)"/>
<polygon points="641.6,402.6 644.9,404.3 644.9,407.6 641.6,406.0" fill="rgb(138,138,139)"/>
<polygon points="644.9,404.3 648.2,402.6 648.2,406.0 644.9,407.6" fill="rgb(108,108,109)"/>
<polygon points="669.0,402.6 672.8,400.8 676.6,402.6 672.8,404.5" fill="rgb(117,117,118)"/>
<polygon points="669.0,402.6 672.8,404.5 672.8,408.3 669.0,406.4" fill="rgb(93,93,94)"/>
<polygon points="672.8,404.5 676.6,402.6 676.6,406.4 672.8,408.3" fill="rgb(63,63,64)"/>
<polygon points="623.7,402.7 626.9,401.0 630.2,402.7 626.9,404.3" fill="rgb(155,155,156)"/>
<polygon points="623.7,402.7 626.9,404.3 626.9,407.6 623.7,405.9" fill="rgb(131,131,132)"/>
<polygon points="626.9,404.3 630.2,402.7 630.2,405.9 626.9,407.6" fill="rgb(101,101,102)"/>
<polygon points="649.0,402.9 651.8,401.5 654.6,402.9 651.8,404.3" fill="rgb(109,109,110)"/>
<polygon points="649.0,402.9 651.8,404.3 651.8,407.1 649.0,405.7" fill="rgb(85,85,86)"/>
<polygon points="651.8,404.3 654.6,402.9 654.6,405.7 651.8,407.1" fill="rgb(55,55,56)"/>
<polygon points="646.8,402.9 650.3,401.2 653.7,402.9 650.3,404.6" fill="rgb(146,146,147)"/>
<polygon points="646.8,402.9 650.3,404.6 650.3,408.1 646.8,406.4" fill="rgb(122,122,123)"/>
<polygon points="650.3,404.6 653.7,402.9 653.7,406.4 650.3,408.1" fill="rgb(92,92,93)"/>
<polygon points="667.0,403.1 669.5,401.8 672.0,403.1 669.5,404.3" fill="rgb(139,139,140)"/>
<polygon points="667.0,403.1 669.5,404.3 669.5,406.8 667.0,405.6" fill="rgb(115,115,116)"/>
<polygon points="669.5,404.3 672.0,403.1 672.0,405.6 669.5,406.8" fill="rgb(85,85,86)"/>
<polygon points="657.3,403.3 660.9,401.5 664.4,403.3 660.9,405.1" fill="rgb(145,145,146)"/>
<polygon points="657.3,403.3 660.9,405.1 660.9,408.6 657.3,406.9" fill="rgb(121,121,122)"/>
<polygon points="660.9,405.1 664.4,403.3 664.4,406.9 660.9,408.6" fill="rgb(91,91,92)"/>
<polygon points="656.0,403.4 658.7,402.0 661.5,403.4 658.7,404.8" fill="rgb(151,151,152)"/>
<polygon points="656.0,403.4 658.7,404.8 658.7,407.6 656.0,406.2" fill="rgb(127,127,128)"/>
<polygon points="658.7,404.8 661.5,403.4 661.5,406.2 658.7,407.6" fill="rgb(97,97,98)"/>
<polygon points="661.4,403.5 664.2,402.1 666.9,403.5 664.2,404.8" fill="rgb(144,144,145)"/>
<polygon points="661.4,403.5 664.2,404.8 664.2,407.6 661.4,406.2" fill="rgb(120,120,121)"/>
<polygon points="664.2,404.8 666.9,403.5 666.9,406.2 664.2,407.6" fill="rgb(90,90,91)"/>
<polygon points="641.1,403.5 644.4,401.9 647.6,403.5 644.4,405.1" fill="rgb(167,167,168)"/>
<polygon points="641.1,403.5 644.4,405.1 644.4,408.4 641.1,406.7" fill="rgb(143,143,144)"/>
<polygon points="644.4,405.1 647.6,403.5 647.6,406.7 644.4,408.4" fill="rgb(113,113,114)"/>
<polygon points="642.6,403.6 645.7,402.0 648.9,403.6 645.7,405.2" fill="rgb(167,167,168)"/>
<polygon points="642.6,403.6 645.7,405.2 645.7,408.3 642.6,406.7" fill="rgb(143,143,144)"/>
<polygon points="645.7,405.2 648.9,403.6 648.9,406.7 645.7,408.3" fill="rgb(113,113,114)"/>
<polygon points="636.0,404.0 639.1,402.4 642.3,404.0 639.1,405.6" fill="rgb(148,148,149)"/>
<polygon points="636.0,404.0 639.1,405.6 639.1,408.7 636.0,407.2" fill="rgb(124,124,125)"/>
<polygon points="639.1,405.6 642.3,404.0 642.3,407.2 639.1,408.7" fill="rgb(94,94,95)"/>
<polygon points="640.7,404.0 644.3,402.2 647.8,404.0 644.3,405.8" fill="rgb(138,138,139)"/>
<polygon points="640.7,404.0 644.3,405.8 644.3,409.4 640.7,407.6" fill="rgb(114,114,115)"/>
<polygon points="644.3,405.8 647.8,404.0 647.8,407.6 644.3,409.4" fill="rgb(84,84,85)"/>
<polygon points="646.5,404.1 649.9,402.4 653.3,404.1 649.9,405.8" fill="rgb(113,113,114)"/>
<polygon points="646.5,404.1 649.9,405.8 649.9,409.2 646.5,407.5" fill="rgb(89,89,90)"/>
<polygon points="649.9,405.8 653.3,404.1 653.3,407.5 649.9,409.2" fill="rgb(59,59,60)"/>
<polygon points="669.0,404.3 672.6,402.5 676.1,404.3 672.6,406.1" fill="rgb(141,141,142)"/>
<polygon points="669.0,404.3 672.6,406.1 672.6,409.6 669.0,407.8" fill="rgb(117,117,118)"/>
<polygon points="672.6,406.1 676.1,404.3 676.1,407.8 672.6,409.6" fill="rgb(87,87,88)"/>
<polygon points="648.2,404.5 651.4,402.9 654.5,404.5 651.4,406.1" fill="rgb(118,118,119)"/>
<polygon points="648.2,404.5 651.4,406.1 651.4,409.3 648.2,407.7" fill="rgb(94,94,95)"/>
<polygon points="651.4,406.1 654.5,404.5 654.5,407.7 651.4,409.3" fill="rgb(64,64,65)"/>
<polygon points="661.4,404.6 664.9,402.8 668.4,404.6 664.9,406.3" fill="rgb(110,110,111)"/>
<polygon points="661.4,404.6 664.9,406.3 664.9,409.9 661.4,408.1" fill="rgb(86,86,87)"/>
<polygon points="664.9,406.3 668.4,404.6 668.4,408.1 664.9,409.9" fill="rgb(56,56,57)"/>
<polygon points="665.0,404.6 668.3,402.9 671.7,404.6 668.3,406.3" fill="rgb(114,114,115)"/>
<polygon points="665.0,404.6 668.3,406.3 668.3,409.6 665.0,407.9" fill="rgb(90,90,91)"/>
<polygon points="668.3,406.3 671.7,404.6 671.7,407.9 668.3,409.6" fill="rgb(60,60,61)"/>
<polygon points="614.7,404.6 618.2,402.9 621.7,404.6 618.2,406.4" fill="rgb(135,135,136)"/>
<polygon points="614.7,404.6 618.2,406.4 618.2,409.9 614.7,408.1" fill="rgb(111,111,112)"/>
<polygon points="618.2,406.4 621.7,404.6 621.7,408.1 618.2,409.9" fill="rgb(81,81,82)"/>
<polygon points="635.3,404.7 639.1,402.8 642.8,404.7 639.1,406.5" fill="rgb(147,147,148)"/>
<polygon points="635.3,404.7 639.1,406.5 639.1,410.3 635.3,408.4" fill="rgb(123,123,124)"/>
<polygon points="639.1,406.5 642.8,404.7 642.8,408.4 639.1,410.3" fill="rgb(93,93,94)"/>
<polygon points="649.1,404.7 652.0,403.2 655.0,404.7 652.0,406.1" fill="rgb(127,127,128)"/>
<polygon points="649.1,404.7 652.0,406.1 652.0,409.1 649.1,407.6" fill="rgb(103,103,104)"/>
<polygon points="652.0,406.1 655.0,404.7 655.0,407.6 652.0,409.1" fill="rgb(73,73,74)"/>
<polygon points="630.7,404.7 633.3,403.4 636.0,404.7 633.3,406.0" fill="rgb(129,129,130)"/>
<polygon points="630.7,404.7 633.3,406.0 633.3,408.7 630.7,407.4" fill="rgb(105,105,106)"/>
<polygon points="633.3,406.0 636.0,404.7 636.0,407.4 633.3,408.7" fill="rgb(75,75,76)"/>
<polygon points="659.3,404.7 661.9,403.4 664.4,404.7 661.9,406.0" fill="rgb(134,134,135)"/>
<polygon points="659.3,404.7 661.9,406.0 661.9,408.5 659.3,407.3" fill="rgb(110,110,111)"/>
<polygon points="661.9,406.0 664.4,404.7 664.4,407.3 661.9,408.5" fill="rgb(80,80,81)"/>
<polygon points="634.1,404.7 637.5,403.0 641.0,404.7 637.5,406.4" fill="rgb(130,130,131)"/>
<polygon points="634.1,404.7 637.5,406.4 637.5,409.9 634.1,408.2" fill="rgb(106,106,107)"/>
<polygon points="637.5,406.4 641.0,404.7 641.0,408.2 637.5,409.9" fill="rgb(76,76,77)"/>
<polygon points="667.0,404.8 670.7,402.9 674.4,404.8 670.7,406.6" fill="rgb(117,117,118)"/>
<polygon points="667.0,404.8 670.7,406.6 670.7,410.3 667.0,408.4" fill="rgb(93,93,94)"/>
<polygon points="670.7,406.6 674.4,404.8 674.4,408.4 670.7,410.3" fill="rgb(63,63,64)"/>
<polygon points="660.0,404.8 663.3,403.2 666.6,404.8 663.3,406.5" fill="rgb(119,119,120)"/>
<polygon points="660.0,404.8 663.3,406.5 663.3,409.8 660.0,408.1" fill="rgb(95,95,96)"/>
<polygon points="663.3,406.5 666.6,404.8 666.6,408.1 663.3,409.8" fill="rgb(65,65,66)"/>
<polygon points="656.2,404.9 659.9,403.1 663.6,404.9 659.9,406.8" fill="rgb(152,152,153)"/>
<polygon points="656.2,404.9 659.9,406.8 659.9,410.5 656.2,408.6" fill="rgb(128,128,129)"/>
<polygon points="659.9,406.8 663.6,404.9 663.6,408.6 659.9,410.5" fill="rgb(98,98,99)"/>
<polygon points="661.9,405.0 665.3,403.3 668.7,405.0 665.3,406.7" fill="rgb(146,146,147)"/>
<polygon points="661.9,405.0 665.3,406.7 665.3,410.0 661.9,408.4" fill="rgb(122,122,123)"/>
<polygon points="665.3,406.7 668.7,405.0 668.7,408.4 665.3,410.0" fill="rgb(92,92,93)"/>
<polygon points="643.4,405.3 646.5,403.7 649.5,405.3 646.5,406.8" fill="rgb(161,161,162)"/>
<polygon points="643.4,405.3 646.5,406.8 646.5,409.8 643.4,408.3" fill="rgb(137,137,138)"/>
<polygon points="646.5,406.8 649.5,405.3 649.5,408.3 646.5,409.8" fill="rgb(107,107,108)"/>
<polygon points="643.5,405.3 647.2,403.5 650.9,405.3 647.2,407.2" fill="rgb(165,165,166)"/>
<polygon points="643.5,405.3 647.2,407.2 647.2,410.9 643.5,409.0" fill="rgb(141,141,142)"/>
<polygon points="647.2,407.2 650.9,405.3 650.9,409.0 647.2,410.9" fill="rgb(111,111,112)"/>
<polygon points="651.5,405.4 654.3,404.0 657.0,405.4 654.3,406.8" fill="rgb(150,150,151)"/>
<polygon points="651.5,405.4 654.3,406.8 654.3,409.5 651.5,408.1" fill="rgb(126,126,127)"/>
<polygon points="654.3,406.8 657.0,405.4 657.0,408.1 654.3,409.5" fill="rgb(96,96,97)"/>
<polygon points="669.3,405.5 672.4,404.0 675.5,405.5 672.4,407.1" fill="rgb(113,113,114)"/>
<polygon points="669.3,405.5 672.4,407.1 672.4,410.2 669.3,408.6" fill="rgb(89,89,90)"/>
<polygon points="672.4,407.1 675.5,405.5 675.5,408.6 672.4,410.2" fill="rgb(59,59,60)"/>
<polygon points="616.1,405.6 619.2,404.1 622.3,405.6 619.2,407.1" fill="rgb(128,128,129)"/>
<polygon points="616.1,405.6 619.2,407.1 619.2,410.2 616.1,408.7" fill="rgb(104,104,105)"/>
<polygon points="619.2,407.1 622.3,405.6 622.3,408.7 619.2,410.2" fill="rgb(74,74,75)"/>
<polygon points="656.6,405.7 660.2,403.9 663.7,405.7 660.2,407.5" fill="rgb(131,131,132)"/>
<polygon points="656.6,405.7 660.2,407.5 660.2,411.0 656.6,409.2" fill="rgb(107,107,108)"/>
<polygon points="660.2,407.5 663.7,405.7 663.7,409.2 660.2,411.0" fill="rgb(77,77,78)"/>
<polygon points="671.3,405.8 674.3,404.3 677.3,405.8 674.3,407.3" fill="rgb(112,112,113)"/>
<polygon points="671.3,405.8 674.3,407.3 674.3,410.3 671.3,408.8" fill="rgb(88,88,89)"/>
<polygon points="674.3,407.3 677.3,405.8 677.3,408.8 674.3,410.3" fill="rgb(58,58,59)"/>
<polygon points="647.4,405.8 649.9,404.5 652.5,405.8 649.9,407.1" fill="rgb(121,121,122)"/>
<polygon points="647.4,405.8 649.9,407.1 649.9,409.6 647.4,408.4" fill="rgb(97,97,98)"/>
<polygon points="649.9,407.1 652.5,405.8 652.5,408.4 649.9,409.6" fill="rgb(67,67,68)"/>
<polygon points="629.5,405.8 632.4,404.4 635.2,405.8 632.4,407.2" fill="rgb(153,153,154)"/>
<polygon points="629.5,405.8 632.4,407.2 632.4,410.1 629.5,408.7" fill="rgb(129,129,130)"/>
<polygon points="632.4,407.2 635.2,405.8 635.2,408.7 632.4,410.1" fill="rgb(99,99,100)"/>
<polygon points="648.1,405.8 650.7,404.5 653.3,405.8 650.7,407.2" fill="rgb(122,122,123)"/>
<polygon points="648.1,405.8 650.7,407.2 650.7,409.8 648.1,408.5" fill="rgb(98,98,99)"/>
<polygon points="650.7,407.2 653.3,405.8 653.3,408.5 650.7,409.8" fill="rgb(68,68,69)"/>
<polygon points="637.9,405.9 641.5,404.0 645.1,405.9 641.5,407.7" fill="rgb(154,154,155)"/>
<polygon points="637.9,405.9 641.5,407.7 641.5,411.3 637.9,409.5" fill="rgb(130,130,131)"/>
<polygon points="641.5,407.7 645.1,405.9 645.1,409.5 641.5,411.3" fill="rgb(100,100,101)"/>
<polygon points="658.8,405.9 662.0,404.3 665.1,405.9 662.0,407.5" fill="rgb(130,130,131)"/>
<polygon points="658.8,405.9 662.0,407.5 662.0,410.6 658.8,409.0" fill="rgb(106,106,107)"/>
<polygon points="662.0,407.5 665.1,405.9 665.1,409.0 662.0,410.6" fill="rgb(76,76,77)"/>
<polygon points="662.4,406.0 665.3,404.5 668.1,406.0 665.3,407.4" fill="rgb(129,129,130)"/>
<polygon points="662.4,406.0 665.3,407.4 665.3,410.2 662.4,408.8" fill="rgb(105,105,106)"/>
<polygon points="665.3,407.4 668.1,406.0 668.1,408.8 665.3,410.2" fill="rgb(75,75,76)"/>
<polygon points="662.9,406.1 666.5,404.3 670.1,406.1 666.5,407.9" fill="rgb(122,122,123)"/>
<polygon points="662.9,406.1 666.5,407.9 666.5,411.5 662.9,409.7" fill="rgb(98,98,99)"/>
<polygon points="666.5,407.9 670.1,406.1 670.1,409.7 666.5,411.5" fill="rgb(68,68,69)"/>
<polygon points="664.1,406.2 666.8,404.8 669.6,406.2 666.8,407.6" fill="rgb(130,130,131)"/>
<polygon points="664.1,406.2 666.8,407.6 666.8,410.3 664.1,409.0" fill="rgb(106,106,107)"/>
<polygon points="666.8,407.6 669.6,406.2 669.6,409.0 666.8,410.3" fill="rgb(76,76,77)"/>
<polygon points="636.8,406.3 640.6,404.4 644.3,406.3 640.6,408.1" fill="rgb(153,153,154)"/>
<polygon points="636.8,406.3 640.6,408.1 640.6,411.8 636.8,410.0" fill="rgb(129,129,130)"/>
<polygon points="640.6,408.1 644.3,406.3 644.3,410.0 640.6,411.8" fill="rgb(99,99,100)"/>
<polygon points="665.7,406.5 668.1,405.3 670.5,406.5 668.1,407.7" fill="rgb(108,108,109)"/>
<polygon points="665.7,406.5 668.1,407.7 668.1,410.1 665.7,408.9" fill="rgb(84,84,85)"/>
<polygon points="668.1,407.7 670.5,406.5 670.5,408.9 668.1,410.1" fill="rgb(55,55,56)"/>
<polygon points="616.7,406.6 619.4,405.3 622.1,406.6 619.4,408.0" fill="rgb(143,143,144)"/>
<polygon points="616.7,406.6 619.4,408.0 619.4,410.7 616.7,409.4" fill="rgb(119,119,120)"/>
<polygon points="619.4,408.0 622.1,406.6 622.1,409.4 619.4,410.7" fill="rgb(89,89,90)"/>
<polygon points="661.2,406.7 663.7,405.4 666.3,406.7 663.7,408.0" fill="rgb(124,124,125)"/>
<polygon points="661.2,406.7 663.7,408.0 663.7,410.6 661.2,409.3" fill="rgb(100,100,101)"/>
<polygon points="663.7,408.0 666.3,406.7 666.3,409.3 663.7,410.6" fill="rgb(70,70,71)"/>
<polygon points="636.4,406.8 638.8,405.6 641.3,406.8 638.8,408.0" fill="rgb(131,131,132)"/>
<polygon points="636.4,406.8 638.8,408.0 638.8,410.5 636.4,409.3" fill="rgb(107,107,108)"/>
<polygon points="638.8,408.0 641.3,406.8 641.3,409.3 638.8,410.5" fill="rgb(77,77,78)"/>
<polygon points="646.7,406.8 649.7,405.3 652.8,406.8 649.7,408.3" fill="rgb(145,145,146)"/>
<polygon points="646.7,406.8 649.7,408.3 649.7,411.4 646.7,409.9" fill="rgb(121,121,122)"/>
<polygon points="649.7,408.3 652.8,406.8 652.8,409.9 649.7,411.4" fill="rgb(91,91,92)"/>
<polygon points="655.1,407.0 657.9,405.6 660.8,407.0 657.9,408.4" fill="rgb(131,131,132)"/>
<polygon points="655.1,407.0 657.9,408.4 657.9,411.3 655.1,409.8" fill="rgb(107,107,108)"/>
<polygon points="657.9,408.4 660.8,407.0 660.8,409.8 657.9,411.3" fill="rgb(77,77,78)"/>
<polygon points="651.8,407.1 655.1,405.5 658.4,407.1 655.1,408.8" fill="rgb(141,141,142)"/>
<polygon points="651.8,407.1 655.1,408.8 655.1,412.1 651.8,410.4" fill="rgb(117,117,118)"/>
<polygon points="655.1,408.8 658.4,407.1 658.4,410.4 655.1,412.1" fill="rgb(87,87,88)"/>
<polygon points="671.9,407.2 674.5,405.9 677.0,407.2 674.5,408.5" fill="rgb(129,129,130)"/>
<polygon points="671.9,407.2 674.5,408.5 674.5,411.0 671.9,409.7" fill="rgb(105,105,106)"/>
<polygon points="674.5,408.5 677.0,407.2 677.0,409.7 674.5,411.0" fill="rgb(75,75,76)"/>
<polygon points="643.1,407.2 646.3,405.6 649.5,407.2 646.3,408.8" fill="rgb(161,161,162)"/>
<polygon points="643.1,407.2 646.3,408.8 646.3,412.1 643.1,410.5" fill="rgb(137,137,138)"/>
<polygon points="646.3,408.8 649.5,407.2 649.5,410.5 646.3,412.1" fill="rgb(107,107,108)"/>
<polygon points="621.2,407.3 623.6,406.1 626.1,407.3 623.6,408.6" fill="rgb(171,171,172)"/>
<polygon points="621.2,407.3 623.6,408.6 623.6,411.0 621.2,409.8" fill="rgb(147,147,148)"/>
<polygon points="623.6,408.6 626.1,407.3 626.1,409.8 623.6,411.0" fill="rgb(117,117,118)"/>
<polygon points="615.6,407.5 619.1,405.7 622.6,407.5 619.1,409.2" fill="rgb(150,150,151)"/>
<polygon points="615.6,407.5 619.1,409.2 619.1,412.7 615.6,410.9" fill="rgb(126,126,127)"/>
<polygon points="619.1,409.2 622.6,407.5 622.6,410.9 619.1,412.7" fill="rgb(96,96,97)"/>
<polygon points="613.4,407.6 616.2,406.2 619.0,407.6 616.2,409.0" fill="rgb(157,157,158)"/>
<polygon points="613.4,407.6 616.2,409.0 616.2,411.8 613.4,410.4" fill="rgb(133,133,134)"/>
<polygon points="616.2,409.0 619.0,407.6 619.0,410.4 616.2,411.8" fill="rgb(103,103,104)"/>
<polygon points="665.0,407.7 668.0,406.2 671.1,407.7 668.0,409.2" fill="rgb(149,149,150)"/>
<polygon points="665.0,407.7 668.0,409.2 668.0,412.2 665.0,410.7" fill="rgb(125,125,126)"/>
<polygon points="668.0,409.2 671.1,407.7 671.1,410.7 668.0,412.2" fill="rgb(95,95,96)"/>
<polygon points="630.6,407.8 634.0,406.1 637.4,407.8 634.0,409.5" fill="rgb(143,143,144)"/>
<polygon points="630.6,407.8 634.0,409.5 634.0,412.8 630.6,411.1" fill="rgb(119,119,120)"/>
<polygon points="634.0,409.5 637.4,407.8 637.4,411.1 634.0,412.8" fill="rgb(89,89,90)"/>
<polygon points="647.2,407.9 649.7,406.7 652.1,407.9 649.7,409.1" fill="rgb(134,134,135)"/>
<polygon points="647.2,407.9 649.7,409.1 649.7,411.6 647.2,410.3" fill="rgb(110,110,111)"/>
<polygon points="649.7,409.1 652.1,407.9 652.1,410.3 649.7,411.6" fill="rgb(80,80,81)"/>
<polygon points="640.1,408.3 643.7,406.5 647.3,408.3 643.7,410.1" fill="rgb(139,139,140)"/>
<polygon points="640.1,408.3 643.7,410.1 643.7,413.7 640.1,411.9" fill="rgb(115,115,116)"/>
<polygon points="643.7,410.1 647.3,408.3 647.3,411.9 643.7,413.7" fill="rgb(85,85,86)"/>
<polygon points="646.8,408.4 650.5,406.6 654.2,408.4 650.5,410.3" fill="rgb(120,120,121)"/>
<polygon points="646.8,408.4 650.5,410.3 650.5,413.9 646.8,412.1" fill="rgb(96,96,97)"/>
<polygon points="650.5,410.3 654.2,408.4 654.2,412.1 650.5,413.9" fill="rgb(66,66,67)"/>
<polygon points="644.7,408.5 648.5,406.6 652.2,408.5 648.5,410.3" fill="rgb(137,137,138)"/>
<polygon points="644.7,408.5 648.5,410.3 648.5,414.1 644.7,412.2" fill="rgb(113,113,114)"/>
<polygon points="648.5,410.3 652.2,408.5 652.2,412.2 648.5,414.1" fill="rgb(83,83,84)"/>
<polygon points="611.7,408.5 615.1,406.7 618.6,408.5 615.1,410.2" fill="rgb(141,141,142)"/>
<polygon points="611.7,408.5 615.1,410.2 615.1,413.6 611.7,411.9" fill="rgb(117,117,118)"/>
<polygon points="615.1,410.2 618.6,408.5 618.6,411.9 615.1,413.6" fill="rgb(87,87,88)"/>
<polygon points="658.4,408.5 661.0,407.2 663.6,408.5 661.0,409.8" fill="rgb(124,124,125)"/>
<polygon points="658.4,408.5 661.0,409.8 661.0,412.4 658.4,411.1" fill="rgb(100,100,101)"/>
<polygon points="661.0,409.8 663.6,408.5 663.6,411.1 661.0,412.4" fill="rgb(70,70,71)"/>
<polygon points="636.3,408.7 638.8,407.4 641.4,408.7 638.8,410.0" fill="rgb(156,156,157)"/>
<polygon points="636.3,408.7 638.8,410.0 638.8,412.5 636.3,411.3" fill="rgb(132,132,133)"/>
<polygon points="638.8,410.0 641.4,408.7 641.4,411.3 638.8,412.5" fill="rgb(102,102,103)"/>
<polygon points="662.3,408.9 665.9,407.1 669.4,408.9 665.9,410.7" fill="rgb(138,138,139)"/>
<polygon points="662.3,408.9 665.9,410.7 665.9,414.2 662.3,412.5" fill="rgb(114,114,115)"/>
<polygon points="665.9,410.7 669.4,408.9 669.4,412.5 665.9,414.2" fill="rgb(84,84,85)"/>
<polygon points="658.6,408.9 661.4,407.5 664.2,408.9 661.4,410.3" fill="rgb(122,122,123)"/>
<polygon points="658.6,408.9 661.4,410.3 661.4,413.1 658.6,411.7" fill="rgb(98,98,99)"/>
<polygon points="661.4,410.3 664.2,408.9 664.2,411.7 661.4,413.1" fill="rgb(68,68,69)"/>
<polygon points="641.5,408.9 644.0,407.6 646.6,408.9 644.0,410.2" fill="rgb(149,149,150)"/>
<polygon points="641.5,408.9 644.0,410.2 644.0,412.7 641.5,411.5" fill="rgb(125,125,126)"/>
<polygon points="644.0,410.2 646.6,408.9 646.6,411.5 644.0,412.7" fill="rgb(95,95,96)"/>
<polygon points="657.3,408.9 660.0,407.6 662.7,408.9 660.0,410.3" fill="rgb(119,119,120)"/>
<polygon points="657.3,408.9 660.0,410.3 660.0,413.0 657.3,411.7" fill="rgb(95,95,96)"/>
<polygon points="660.0,410.3 662.7,408.9 662.7,411.7 660.0,413.0" fill="rgb(65,65,66)"/>
<polygon points="650.6,409.0 653.7,407.4 656.9,409.0 653.7,410.6" fill="rgb(123,123,124)"/>
<polygon points="650.6,409.0 653.7,410.6 653.7,413.7 650.6,412.2" fill="rgb(99,99,100)"/>
<polygon points="653.7,410.6 656.9,409.0 656.9,412.2 653.7,413.7" fill="rgb(69,69,70)"/>
<polygon points="643.6,409.0 647.2,407.2 650.9,409.0 647.2,410.9" fill="rgb(171,171,172)"/>
<polygon points="643.6,409.0 647.2,410.9 647.2,414.5 643.6,412.7" fill="rgb(147,147,148)"/>
<polygon points="647.2,410.9 650.9,409.0 650.9,412.7 647.2,414.5" fill="rgb(117,117,118)"/>
<polygon points="667.1,409.1 670.4,407.5 673.6,409.1 670.4,410.8" fill="rgb(149,149,150)"/>
<polygon points="667.1,409.1 670.4,410.8 670.4,414.0 667.1,412.4" fill="rgb(125,125,126)"/>
<polygon points="670.4,410.8 673.6,409.1 673.6,412.4 670.4,414.0" fill="rgb(95,95,96)"/>
<polygon points="641.0,409.4 644.0,407.9 646.9,409.4 644.0,410.8" fill="rgb(167,167,168)"/>
<polygon points="641.0,409.4 644.0,410.8 644.0,413.8 641.0,412.3" fill="rgb(143,143,144)"/>
<polygon points="644.0,410.8 646.9,409.4 646.9,412.3 644.0,413.8" fill="rgb(113,113,114)"/>
<polygon points="656.7,409.8 659.9,408.2 663.0,409.8 659.9,411.3" fill="rgb(124,124,125)"/>
<polygon points="656.7,409.8 659.9,411.3 659.9,414.5 656.7,412.9" fill="rgb(100,100,101)"/>
<polygon points="659.9,411.3 663.0,409.8 663.0,412.9 659.9,414.5" fill="rgb(70,70,71)"/>
<polygon points="648.4,409.9 651.5,408.3 654.6,409.9 651.5,411.4" fill="rgb(146,146,147)"/>
<polygon points="648.4,409.9 651.5,411.4 651.5,414.5 648.4,413.0" fill="rgb(122,122,123)"/>
<polygon points="651.5,411.4 654.6,409.9 654.6,413.0 651.5,414.5" fill="rgb(92,92,93)"/>
<polygon points="651.1,410.1 654.0,408.7 657.0,410.1 654.0,411.6" fill="rgb(141,141,142)"/>
<polygon points="651.1,410.1 654.0,411.6 654.0,414.5 651.1,413.0" fill="rgb(117,117,118)"/>
<polygon points="654.0,411.6 657.0,410.1 657.0,413.0 654.0,414.5" fill="rgb(87,87,88)"/>
<polygon points="618.5,410.3 622.0,408.5 625.5,410.3 622.0,412.0" fill="rgb(164,164,165)"/>
<polygon points="618.5,410.3 622.0,412.0 622.0,415.5 618.5,413.8" fill="rgb(140,140,141)"/>
<polygon points="622.0,412.0 625.5,410.3 625.5,413.8 622.0,415.5" fill="rgb(110,110,111)"/>
<polygon points="637.3,410.6 641.1,408.7 644.9,410.6 641.1,412.5" fill="rgb(144,144,145)"/>
<polygon points="637.3,410.6 641.1,412.5 641.1,416.3 637.3,414.4" fill="rgb(120,120,121)"/>
<polygon points="641.1,412.5 644.9,410.6 644.9,414.4 641.1,416.3" fill="rgb(90,90,91)"/>
<polygon points="668.4,411.0 671.7,409.3 674.9,411.0 671.7,412.6" fill="rgb(144,144,145)"/>
<polygon points="668.4,411.0 671.7,412.6 671.7,415.9 668.4,414.2" fill="rgb(120,120,121)"/>
<polygon points="671.7,412.6 674.9,411.0 674.9,414.2 671.7,415.9" fill="rgb(90,90,91)"/>
<polygon points="637.6,411.1 641.2,409.3 644.8,411.1 641.2,412.9" fill="rgb(129,129,130)"/>
<polygon points="637.6,411.1 641.2,412.9 641.2,416.5 637.6,414.7" fill="rgb(105,105,106)"/>
<polygon points="641.2,412.9 644.8,411.1 644.8,414.7 641.2,416.5" fill="rgb(75,75,76)"/>
<polygon points="663.7,411.3 666.3,410.0 668.9,411.3 666.3,412.6" fill="rgb(119,119,120)"/>
<polygon points="663.7,411.3 666.3,412.6 666.3,415.2 663.7,413.9" fill="rgb(95,95,96)"/>
<polygon points="666.3,412.6 668.9,411.3 668.9,413.9 666.3,415.2" fill="rgb(65,65,66)"/>
<polygon points="639.0,411.3 641.8,410.0 644.5,411.3 641.8,412.7" fill="rgb(147,147,148)"/>
<polygon points="639.0,411.3 641.8,412.7 641.8,415.5 639.0,414.1" fill="rgb(123,123,124)"/>
<polygon points="641.8,412.7 644.5,411.3 644.5,414.1 641.8,415.5" fill="rgb(93,93,94)"/>
<polygon points="663.5,411.5 666.4,410.0 669.3,411.5 666.4,412.9" fill="rgb(122,122,123)"/>
<polygon points="663.5,411.5 666.4,412.9 666.4,415.8 663.5,414.4" fill="rgb(98,98,99)"/>
<polygon points="666.4,412.9 669.3,411.5 669.3,414.4 666.4,415.8" fill="rgb(68,68,69)"/>
<polygon points="661.4,411.6 664.2,410.3 666.9,411.6 664.2,413.0" fill="rgb(112,112,113)"/>
<polygon points="661.4,411.6 664.2,413.0 664.2,415.7 661.4,414.4" fill="rgb(88,88,89)"/>
<polygon points="664.2,413.0 666.9,411.6 666.9,414.4 664.2,415.7" fill="rgb(58,58,59)"/>
<polygon points="636.6,412.5 639.2,411.2 641.7,412.5 639.2,413.8" fill="rgb(147,147,148)"/>
<polygon points="636.6,412.5 639.2,413.8 639.2,416.3 636.6,415.0" fill="rgb(123,123,124)"/>
<polygon points="639.2,413.8 641.7,412.5 641.7,415.0 639.2,416.3" fill="rgb(93,93,94)"/>
<polygon points="663.0,412.9 666.3,411.3 669.7,412.9 666.3,414.6" fill="rgb(140,140,141)"/>
<polygon points="663.0,412.9 666.3,414.6 666.3,418.0 663.0,416.3" fill="rgb(116,116,117)"/>
<polygon points="666.3,414.6 669.7,412.9 669.7,416.3 666.3,418.0" fill="rgb(86,86,87)"/>
<polygon points="635.6,413.0 638.7,411.5 641.8,413.0 638.7,414.6" fill="rgb(149,149,150)"/>
<polygon points="635.6,413.0 638.7,414.6 638.7,417.7 635.6,416.2" fill="rgb(125,125,126)"/>
<polygon points="638.7,414.6 641.8,413.0 641.8,416.2 638.7,417.7" fill="rgb(95,95,96)"/>
<polygon points="639.7,413.2 643.4,411.3 647.2,413.2 643.4,415.1" fill="rgb(141,141,142)"/>
<polygon points="639.7,413.2 643.4,415.1 643.4,418.9 639.7,417.0" fill="rgb(117,117,118)"/>
<polygon points="643.4,415.1 647.2,413.2 647.2,417.0 643.4,418.9" fill="rgb(87,87,88)"/>
<polygon points="658.1,413.3 661.9,411.4 665.7,413.3 661.9,415.2" fill="rgb(151,151,152)"/>
<polygon points="658.1,413.3 661.9,415.2 661.9,419.0 658.1,417.1" fill="rgb(127,127,128)"/>
<polygon points="661.9,415.2 665.7,413.3 665.7,417.1 661.9,419.0" fill="rgb(97,97,98)"/>
<polygon points="635.6,413.4 638.4,412.0 641.1,413.4 638.4,414.8" fill="rgb(130,130,131)"/>
<polygon points="635.6,413.4 638.4,414.8 638.4,417.5 635.6,416.1" fill="rgb(106,106,107)"/>
<polygon points="638.4,414.8 641.1,413.4 641.1,416.1 638.4,417.5" fill="rgb(76,76,77)"/>
<polygon points="639.8,413.5 642.5,412.1 645.3,413.5 642.5,414.9" fill="rgb(143,143,144)"/>
<polygon points="639.8,413.5 642.5,414.9 642.5,417.6 639.8,416.2" fill="rgb(119,119,120)"/>
<polygon points="642.5,414.9 645.3,413.5 645.3,416.2 642.5,417.6" fill="rgb(89,89,90)"/>
<polygon points="637.9,413.8 640.6,412.4 643.4,413.8 640.6,415.1" fill="rgb(162,162,163)"/>
<polygon points="637.9,413.8 640.6,415.1 640.6,417.9 637.9,416.5" fill="rgb(138,138,139)"/>
<polygon points="640.6,415.1 643.4,413.8 643.4,416.5 640.6,417.9" fill="rgb(108,108,109)"/>
<polygon points="648.2,414.5 651.8,412.7 655.4,414.5 651.8,416.3" fill="rgb(113,113,114)"/>
<polygon points="648.2,414.5 651.8,416.3 651.8,419.9 648.2,418.1" fill="rgb(89,89,90)"/>
<polygon points="651.8,416.3 655.4,414.5 655.4,418.1 651.8,419.9" fill="rgb(59,59,60)"/>
<polygon points="636.5,414.7 639.4,413.2 642.3,414.7 639.4,416.1" fill="rgb(133,133,134)"/>
<polygon points="636.5,414.7 639.4,416.1 639.4,419.0 636.5,417.6" fill="rgb(109,109,110)"/>
<polygon points="639.4,416.1 642.3,414.7 642.3,417.6 639.4,419.0" fill="rgb(79,79,80)"/>
<polygon points="631.2,414.9 635.0,413.1 638.7,414.9 635.0,416.8" fill="rgb(171,171,172)"/>
<polygon points="631.2,414.9 635.0,416.8 635.0,420.6 631.2,418.7" fill="rgb(147,147,148)"/>
<polygon points="635.0,416.8 638.7,414.9 638.7,418.7 635.0,420.6" fill="rgb(117,117,118)"/>
<polygon points="638.7,415.2 642.0,413.6 645.2,415.2 642.0,416.8" fill="rgb(160,160,161)"/>
<polygon points="638.7,415.2 642.0,416.8 642.0,420.0 638.7,418.4" fill="rgb(136,136,137)"/>
<polygon points="642.0,416.8 645.2,415.2 645.2,418.4 642.0,420.0" fill="rgb(106,106,107)"/>
<polygon points="650.4,415.3 654.1,413.4 657.7,415.3 654.1,417.1" fill="rgb(123,123,124)"/>
<polygon points="650.4,415.3 654.1,417.1 654.1,420.8 650.4,418.9" fill="rgb(99,99,100)"/>
<polygon points="654.1,417.1 657.7,415.3 657.7,418.9 654.1,420.8" fill="rgb(69,69,70)"/>
<polygon points="632.2,415.4 634.9,414.0 637.7,415.4 634.9,416.8" fill="rgb(156,156,157)"/>
<polygon points="632.2,415.4 634.9,416.8 634.9,419.5 632.2,418.2" fill="rgb(132,132,133)"/>
<polygon points="634.9,416.8 637.7,415.4 637.7,418.2 634.9,419.5" fill="rgb(102,102,103)"/>
<polygon points="634.8,415.5 637.5,414.2 640.2,415.5 637.5,416.9" fill="rgb(141,141,142)"/>
<polygon points="634.8,415.5 637.5,416.9 637.5,419.6 634.8,418.2" fill="rgb(117,117,118)"/>
<polygon points="637.5,416.9 640.2,415.5 640.2,418.2 637.5,419.6" fill="rgb(87,87,88)"/>
<polygon points="639.2,415.5 641.7,414.3 644.2,415.5 641.7,416.8" fill="rgb(130,130,131)"/>
<polygon points="639.2,415.5 641.7,416.8 641.7,419.3 639.2,418.1" fill="rgb(106,106,107)"/>
<polygon points="641.7,416.8 644.2,415.5 644.2,418.1 641.7,419.3" fill="rgb(76,76,77)"/>
<polygon points="635.4,415.7 639.0,413.9 642.6,415.7 639.0,417.5" fill="rgb(154,154,155)"/>
<polygon points="635.4,415.7 639.0,417.5 639.0,421.1 635.4,419.3" fill="rgb(130,130,131)"/>
<polygon points="639.0,417.5 642.6,415.7 642.6,419.3 639.0,421.1" fill="rgb(100,100,101)"/>
<polygon points="644.2,416.0 647.1,414.6 650.0,416.0 647.1,417.5" fill="rgb(163,163,164)"/>
<polygon points="644.2,416.0 647.1,417.5 647.1,420.4 644.2,419.0" fill="rgb(139,139,140)"/>
<polygon points="647.1,417.5 650.0,416.0 650.0,419.0 647.1,420.4" fill="rgb(109,109,110)"/>
<polygon points="655.5,416.3 658.4,414.9 661.4,416.3 658.4,417.8" fill="rgb(116,116,117)"/>
<polygon points="655.5,416.3 658.4,417.8 658.4,420.8 655.5,419.3" fill="rgb(92,92,93)"/>
<polygon points="658.4,417.8 661.4,416.3 661.4,419.3 658.4,420.8" fill="rgb(62,62,63)"/>
<polygon points="647.4,416.5 650.5,414.9 653.6,416.5 650.5,418.0" fill="rgb(131,131,132)"/>
<polygon points="647.4,416.5 650.5,418.0 650.5,421.1 647.4,419.6" fill="rgb(107,107,108)"/>
<polygon points="650.5,418.0 653.6,416.5 653.6,419.6 650.5,421.1" fill="rgb(77,77,78)"/>
<polygon points="634.7,416.5 638.3,414.7 641.9,416.5 638.3,418.3" fill="rgb(170,170,171)"/>
<polygon points="634.7,416.5 638.3,418.3 638.3,421.9 634.7,420.1" fill="rgb(146,146,147)"/>
<polygon points="638.3,418.3 641.9,416.5 641.9,420.1 638.3,421.9" fill="rgb(116,116,117)"/>
<polygon points="646.2,416.6 650.0,414.7 653.8,416.6 650.0,418.5" fill="rgb(130,130,131)"/>
<polygon points="646.2,416.6 650.0,418.5 650.0,422.3 646.2,420.4" fill="rgb(106,106,107)"/>
<polygon points="650.0,418.5 653.8,416.6 653.8,420.4 650.0,422.3" fill="rgb(76,76,77)"/>
<polygon points="648.6,416.8 651.5,415.3 654.5,416.8 651.5,418.3" fill="rgb(112,112,113)"/>
<polygon points="648.6,416.8 651.5,418.3 651.5,421.3 648.6,419.8" fill="rgb(88,88,89)"/>
<polygon points="651.5,418.3 654.5,416.8 654.5,419.8 651.5,421.3" fill="rgb(58,58,59)"/>
<polygon points="650.7,417.0 653.8,415.5 656.9,417.0 653.8,418.6" fill="rgb(112,112,113)"/>
<polygon points="650.7,417.0 653.8,418.6 653.8,421.6 650.7,420.1" fill="rgb(88,88,89)"/>
<polygon points="653.8,418.6 656.9,417.0 656.9,420.1 653.8,421.6" fill="rgb(58,58,59)"/>
<polygon points="656.2,417.1 658.9,415.7 661.6,417.1 658.9,418.4" fill="rgb(132,132,133)"/>
<polygon points="656.2,417.1 658.9,418.4 658.9,421.1 656.2,419.7" fill="rgb(108,108,109)"/>
<polygon points="658.9,418.4 661.6,417.1 661.6,419.7 658.9,421.1" fill="rgb(78,78,79)"/>
<polygon points="643.4,417.2 646.5,415.7 649.6,417.2 646.5,418.8" fill="rgb(136,136,137)"/>
<polygon points="643.4,417.2 646.5,418.8 646.5,421.8 643.4,420.3" fill="rgb(112,112,113)"/>
<polygon points="646.5,418.8 649.6,417.2 649.6,420.3 646.5,421.8" fill="rgb(82,82,83)"/>
<polygon points="656.6,417.6 659.4,416.2 662.1,417.6 659.4,419.0" fill="rgb(134,134,135)"/>
<polygon points="656.6,417.6 659.4,419.0 659.4,421.8 656.6,420.4" fill="rgb(110,110,111)"/>
<polygon points="659.4,419.0 662.1,417.6 662.1,420.4 659.4,421.8" fill="rgb(80,80,81)"/>
<polygon points="651.1,418.1 654.2,416.5 657.2,418.1 654.2,419.6" fill="rgb(150,150,151)"/>
<polygon points="651.1,418.1 654.2,419.6 654.2,422.7 651.1,421.2" fill="rgb(126,126,127)"/>
<polygon points="654.2,419.6 657.2,418.1 657.2,421.2 654.2,422.7" fill="rgb(96,96,97)"/>
<polygon points="647.7,418.2 651.2,416.4 654.8,418.2 651.2,419.9" fill="rgb(122,122,123)"/>
<polygon points="647.7,418.2 651.2,419.9 651.2,423.5 647.7,421.7" fill="rgb(98,98,99)"/>
<polygon points="651.2,419.9 654.8,418.2 654.8,421.7 651.2,423.5" fill="rgb(68,68,69)"/>
<polygon points="632.9,418.8 636.5,417.0 640.0,418.8 636.5,420.6" fill="rgb(149,149,150)"/>
<polygon points="632.9,418.8 636.5,420.6 636.5,424.2 632.9,422.4" fill="rgb(125,125,126)"/>
<polygon points="636.5,420.6 640.0,418.8 640.0,422.4 636.5,424.2" fill="rgb(95,95,96)"/>
<polygon points="642.4,419.0 645.2,417.6 648.1,419.0 645.2,420.4" fill="rgb(141,141,142)"/>
<polygon points="642.4,419.0 645.2,420.4 645.2,423.2 642.4,421.8" fill="rgb(117,117,118)"/>
<polygon points="645.2,420.4 648.1,419.0 648.1,421.8 645.2,423.2" fill="rgb(87,87,88)"/>
<polygon points="642.1,419.7 645.8,417.8 649.4,419.7 645.8,421.5" fill="rgb(152,152,153)"/>
<polygon points="642.1,419.7 645.8,421.5 645.8,425.2 642.1,423.3" fill="rgb(128,128,129)"/>
<polygon points="645.8,421.5 649.4,419.7 649.4,423.3 645.8,425.2" fill="rgb(98,98,99)"/>
<polygon points="650.6,419.8 653.6,418.2 656.7,419.8 653.6,421.3" fill="rgb(126,126,127)"/>
<polygon points="650.6,419.8 653.6,421.3 653.6,424.4 650.6,422.8" fill="rgb(102,102,103)"/>
<polygon points="653.6,421.3 656.7,419.8 656.7,422.8 653.6,424.4" fill="rgb(72,72,73)"/>
<polygon points="641.4,419.9 644.4,418.4 647.4,419.9 644.4,421.4" fill="rgb(163,163,164)"/>
<polygon points="641.4,419.9 644.4,421.4 644.4,424.4 641.4,422.9" fill="rgb(139,139,140)"/>
<polygon points="644.4,421.4 647.4,419.9 647.4,422.9 644.4,424.4" fill="rgb(109,109,110)"/>
<polygon points="634.5,420.3 637.1,419.0 639.6,420.3 637.1,421.6" fill="rgb(165,165,166)"/>
<polygon points="634.5,420.3 637.1,421.6 637.1,424.1 634.5,422.8" fill="rgb(141,141,142)"/>
<polygon points="637.1,421.6 639.6,420.3 639.6,422.8 637.1,424.1" fill="rgb(111,111,112)"/>
<polygon points="642.8,420.7 646.2,419.0 649.6,420.7 646.2,422.4" fill="rgb(132,132,133)"/>
<polygon points="642.8,420.7 646.2,422.4 646.2,425.8 642.8,424.1" fill="rgb(108,108,109)"/>
<polygon points="646.2,422.4 649.6,420.7 649.6,424.1 646.2,425.8" fill="rgb(78,78,79)"/>
<polygon points="646.7,420.9 650.3,419.1 653.9,420.9 650.3,422.7" fill="rgb(138,138,139)"/>
<polygon points="646.7,420.9 650.3,422.7 650.3,426.3 646.7,424.5" fill="rgb(114,114,115)"/>
<polygon points="650.3,422.7 653.9,420.9 653.9,424.5 650.3,426.3" fill="rgb(84,84,85)"/>
<polygon points="642.6,420.9 645.1,419.7 647.6,420.9 645.1,422.2" fill="rgb(128,128,129)"/>
<polygon points="642.6,420.9 645.1,422.2 645.1,424.7 642.6,423.5" fill="rgb(104,104,105)"/>
<polygon points="645.1,422.2 647.6,420.9 647.6,423.5 645.1,424.7" fill="rgb(74,74,75)"/>
<polygon points="647.4,421.3 650.8,419.7 654.1,421.3 650.8,423.0" fill="rgb(111,111,112)"/>
<polygon points="647.4,421.3 650.8,423.0 650.8,426.4 647.4,424.7" fill="rgb(87,87,88)"/>
<polygon points="650.8,423.0 654.1,421.3 654.1,424.7 650.8,426.4" fill="rgb(57,57,58)"/>
<polygon points="639.6,421.4 642.6,419.9 645.5,421.4 642.6,422.9" fill="rgb(159,159,160)"/>
<polygon points="639.6,421.4 642.6,422.9 642.6,425.8 639.6,424.3" fill="rgb(135,135,136)"/>
<polygon points="642.6,422.9 645.5,421.4 645.5,424.3 642.6,425.8" fill="rgb(105,105,106)"/>
<polygon points="635.7,423.6 638.5,422.2 641.3,423.6 638.5,425.1" fill="rgb(130,130,131)"/>
<polygon points="635.7,423.6 638.5,425.1 638.5,427.9 635.7,426.5" fill="rgb(106,106,107)"/>
<polygon points="638.5,425.1 641.3,423.6 641.3,426.5 638.5,427.9" fill="rgb(76,76,77)"/>
<polygon points="635.7,423.9 638.9,422.3 642.1,423.9 638.9,425.5" fill="rgb(152,152,153)"/>
<polygon points="635.7,423.9 638.9,425.5 638.9,428.7 635.7,427.1" fill="rgb(128,128,129)"/>
<polygon points="638.9,425.5 642.1,423.9 642.1,427.1 638.9,428.7" fill="rgb(98,98,99)"/>
<polygon points="638.9,424.3 642.3,422.5 645.8,424.3 642.3,426.0" fill="rgb(132,132,133)"/>
<polygon points="638.9,424.3 642.3,426.0 642.3,429.4 638.9,427.7" fill="rgb(108,108,109)"/>
<polygon points="642.3,426.0 645.8,424.3 645.8,427.7 642.3,429.4" fill="rgb(78,78,79)"/>
<path d="M622.6,413.8 L623.4,407.5 Q625.2,403.4 628.3,404.2 Q631.6,405.5 632.3,409.5 L632.6,411.2 Z" fill="#1B1E27"/>
</g>
<g id="rig">
<polygon points="751,392 791.8,416.5 751.7,439.6 710.1,415.9" fill="#52C3CB"/>
<polygon points="754,402 789,416 776,423.5 758,423 752,418" fill="#2FA8B3"/>
<polygon points="737,404 752,404 752,418 737,418" fill="#39B0BB"/>
<rect x="760.9" y="411.0" width="8.2" height="4.5" fill="#2EA7B2"/>
<ellipse cx="765.0" cy="415.5" rx="4.1" ry="2.0" fill="#2EA7B2"/>
<rect x="760.9" y="394.0" width="8.2" height="17.0" fill="#ECDFD5"/>
<rect x="765.6" y="394.0" width="3.5" height="17.0" fill="#D8C6BB"/>
<ellipse cx="765.0" cy="411.0" rx="4.1" ry="2.0" fill="#E2D2C7"/>
<rect x="730.7" y="411.5" width="8.2" height="8.0" fill="#2EA7B2"/>
<ellipse cx="734.8" cy="419.5" rx="4.1" ry="2.0" fill="#2EA7B2"/>
<rect x="730.7" y="392.0" width="8.2" height="19.5" fill="#ECDFD5"/>
<rect x="735.4" y="392.0" width="3.5" height="19.5" fill="#D8C6BB"/>
<ellipse cx="734.8" cy="411.5" rx="4.1" ry="2.0" fill="#E2D2C7"/>
<rect x="746.0" y="418.0" width="8.8" height="2.3" fill="#2EA7B2"/>
<ellipse cx="750.4" cy="420.3" rx="4.4" ry="2.2" fill="#2EA7B2"/>
<rect x="746.0" y="402.0" width="8.8" height="16.0" fill="#ECDFD5"/>
<rect x="751.1" y="402.0" width="3.7" height="16.0" fill="#D8C6BB"/>
<ellipse cx="750.4" cy="418.0" rx="4.4" ry="2.2" fill="#E2D2C7"/>
<polygon points="727.3,387.3 751,375.8 773.3,389 751.2,400.5" fill="#EFE6DD"/>
<polygon points="727.3,387.3 751.2,400.5 751.2,405.5 727.3,394.3" fill="#D9C9BE"/>
<polygon points="751.2,400.5 773.3,389 773.3,396.5 751.2,405.5" fill="#C6B2A7"/>
<polyline points="727.3,390.5 751.2,403 773.3,392.5" fill="none" stroke="#F1E8E0" stroke-width="0.9"/>
<polyline points="727.3,392.6 751.2,404.8 773.3,394.6" fill="none" stroke="#BBA69B" stroke-width="0.6"/>
<polygon points="737.0,377.0 745.7,372.0 753.5,376.5 744.8,381.5" fill="#F5EEE7"/>
<polygon points="737.0,377.0 744.8,381.5 744.8,387.5 737.0,383.0" fill="#E1D3C8"/>
<polygon points="744.8,381.5 753.5,376.5 753.5,382.5 744.8,387.5" fill="#CFBCB1"/>
<polygon points="729.5,385.0 734.7,382.0 740.8,385.5 735.6,388.5" fill="#F7F1EB"/>
<polygon points="729.5,385.0 735.6,388.5 735.6,391.5 729.5,388.0" fill="#E2D5CB"/>
<polygon points="735.6,388.5 740.8,385.5 740.8,388.5 735.6,391.5" fill="#D2C0B5"/>
<polygon points="757.0,386.0 762.2,383.0 768.3,386.5 763.1,389.5" fill="#F3EBE3"/>
<polygon points="757.0,386.0 763.1,389.5 763.1,392.5 757.0,389.0" fill="#DCCCC1"/>
<polygon points="763.1,389.5 768.3,386.5 768.3,389.5 763.1,392.5" fill="#CBB7AC"/>
<polygon points="744.0,392.5 748.4,390.0 752.7,392.5 748.4,395.0" fill="#F5EFE8"/>
<polygon points="744.0,392.5 748.4,395.0 748.4,397.5 744.0,395.0" fill="#DDD0C6"/>
<polygon points="748.4,395.0 752.7,392.5 752.7,395.0 748.4,397.5" fill="#CDBBB0"/>
<polygon points="763.0,384.0 766.5,382.0 770.0,384.0 766.5,386.0" fill="#F0E7DF"/>
<polygon points="763.0,384.0 766.5,386.0 766.5,391.0 763.0,389.0" fill="#D9C9BE"/>
<polygon points="766.5,386.0 770.0,384.0 770.0,389.0 766.5,391.0" fill="#C7B3A8"/>
<polygon points="733.0,390.0 736.5,388.0 739.1,389.5 735.6,391.5" fill="#EDE3DA"/>
<polygon points="733.0,390.0 735.6,391.5 735.6,393.5 733.0,392.0" fill="#D5C6BB"/>
<polygon points="735.6,391.5 739.1,389.5 739.1,391.5 735.6,393.5" fill="#C4B1A6"/>
<polygon points="748.0,385.0 750.6,383.5 753.2,385.0 750.6,386.5" fill="#F2EAE2"/>
<polygon points="748.0,385.0 750.6,386.5 750.6,389.5 748.0,388.0" fill="#D3C3B8"/>
<polygon points="750.6,386.5 753.2,385.0 753.2,388.0 750.6,389.5" fill="#C2AEA3"/>
<polygon points="741.0,377.0 743.6,375.5 746.2,377.0 743.6,378.5" fill="#F4EDE6"/>
<polygon points="741.0,377.0 743.6,378.5 743.6,384.5 741.0,383.0" fill="#DCCEC3"/>
<polygon points="743.6,378.5 746.2,377.0 746.2,383.0 743.6,384.5" fill="#C9B6AB"/>
<polygon points="766.0,392.0 769.5,390.0 772.1,391.5 768.6,393.5" fill="#EAE0D7"/>
<polygon points="766.0,392.0 768.6,393.5 768.6,395.5 766.0,394.0" fill="#D1C0B5"/>
<polygon points="768.6,393.5 772.1,391.5 772.1,393.5 768.6,395.5" fill="#C0ACA1"/>
<rect x="753.2" y="360.8" width="5.7" height="6" fill="#F1E9E2"/>
<rect x="753.2" y="366" width="5.7" height="23.5" fill="#C9553B"/>
<rect x="753.40" y="366.20" width="2.1" height="2.1" fill="#EBDDD5"/>
<rect x="756.25" y="369.15" width="2.1" height="2.1" fill="#EBDDD5"/>
<rect x="753.40" y="372.10" width="2.1" height="2.1" fill="#EBDDD5"/>
<rect x="756.25" y="375.05" width="2.1" height="2.1" fill="#EBDDD5"/>
<rect x="753.40" y="378.00" width="2.1" height="2.1" fill="#EBDDD5"/>
<rect x="756.25" y="380.95" width="2.1" height="2.1" fill="#EBDDD5"/>
<rect x="753.40" y="383.90" width="2.1" height="2.1" fill="#EBDDD5"/>
<rect x="756.25" y="386.85" width="2.1" height="2.1" fill="#EBDDD5"/>
<line x1="759" y1="370" x2="768.5" y2="364.5" stroke="#D8CBC1" stroke-width="1"/>
<polygon points="764,372.5 768.5,370.3 771,371.8 766.5,374" fill="#E8DED5"/>
<rect x="749.3" y="367" width="1.3" height="8" fill="#E3D7CD"/>
<rect x="762.5" y="374" width="1.6" height="8" fill="#E3D7CD"/>
</g>
<g id="ship">
<polygon points="899.7,368.6 927.6,385.3 829.9,444.4 799,425.8" fill="#52C3CB"/>
<polygon points="816.5,427 835,426 850,418 904,386.5 907,388.5 903,392 850,423.5 835,431 818,431.5" fill="#2898A4"/>
<polygon points="815.3,423.3 820,426 835.2,424 850,416 902.5,385 904.5,381.8 904.5,386.5 902,390 850,420.2 835.2,427.8 820,428.8 816,426" fill="#CBB6AF"/>
<polygon points="815.3,423.3 816.5,421.3 819.2,420 893.6,376 904.5,381.8 902.5,385 850,416 835.2,424 820,426" fill="#F7F4ED"/>
<line x1="831" y1="418.6" x2="876" y2="392.4" stroke="#C2B5AE" stroke-width="1.8" stroke-dasharray="0.6 0.55"/>
<line x1="858" y1="400.8" x2="880" y2="388.2" stroke="#CFC3BC" stroke-width="1" stroke-dasharray="1.3 0.9"/>
<line x1="866" y1="404.5" x2="885" y2="393.5" stroke="#CFC3BC" stroke-width="1" stroke-dasharray="1.3 0.9"/>
<line x1="872" y1="404" x2="888" y2="394.8" stroke="#D2C7C0" stroke-width="0.8" stroke-dasharray="1 1"/>
<polygon points="876.4,380.2 889,387 889,391 876.4,384.4" fill="#EEDFCE"/>
<polygon points="876.4,380.2 880,378 892,385 889,387" fill="#F6F0E6"/>
<polygon points="887.7,376 895.3,376 904.5,381.8 902,386 889,391 889,383" fill="#C3ACA5"/>
<polygon points="879.3,369.2 887.7,376 887.7,386 879.3,379.5" fill="#EADACA"/>
<polygon points="877.2,368.4 881,366.5 891.5,372 891.5,375.5 887.7,376.5 877.5,370.5" fill="#F7F3EC"/>
<polygon points="887.7,376.5 891.5,375.5 894,378 888,380" fill="#BBA49C"/>
</g>
</svg>
</body></html>
